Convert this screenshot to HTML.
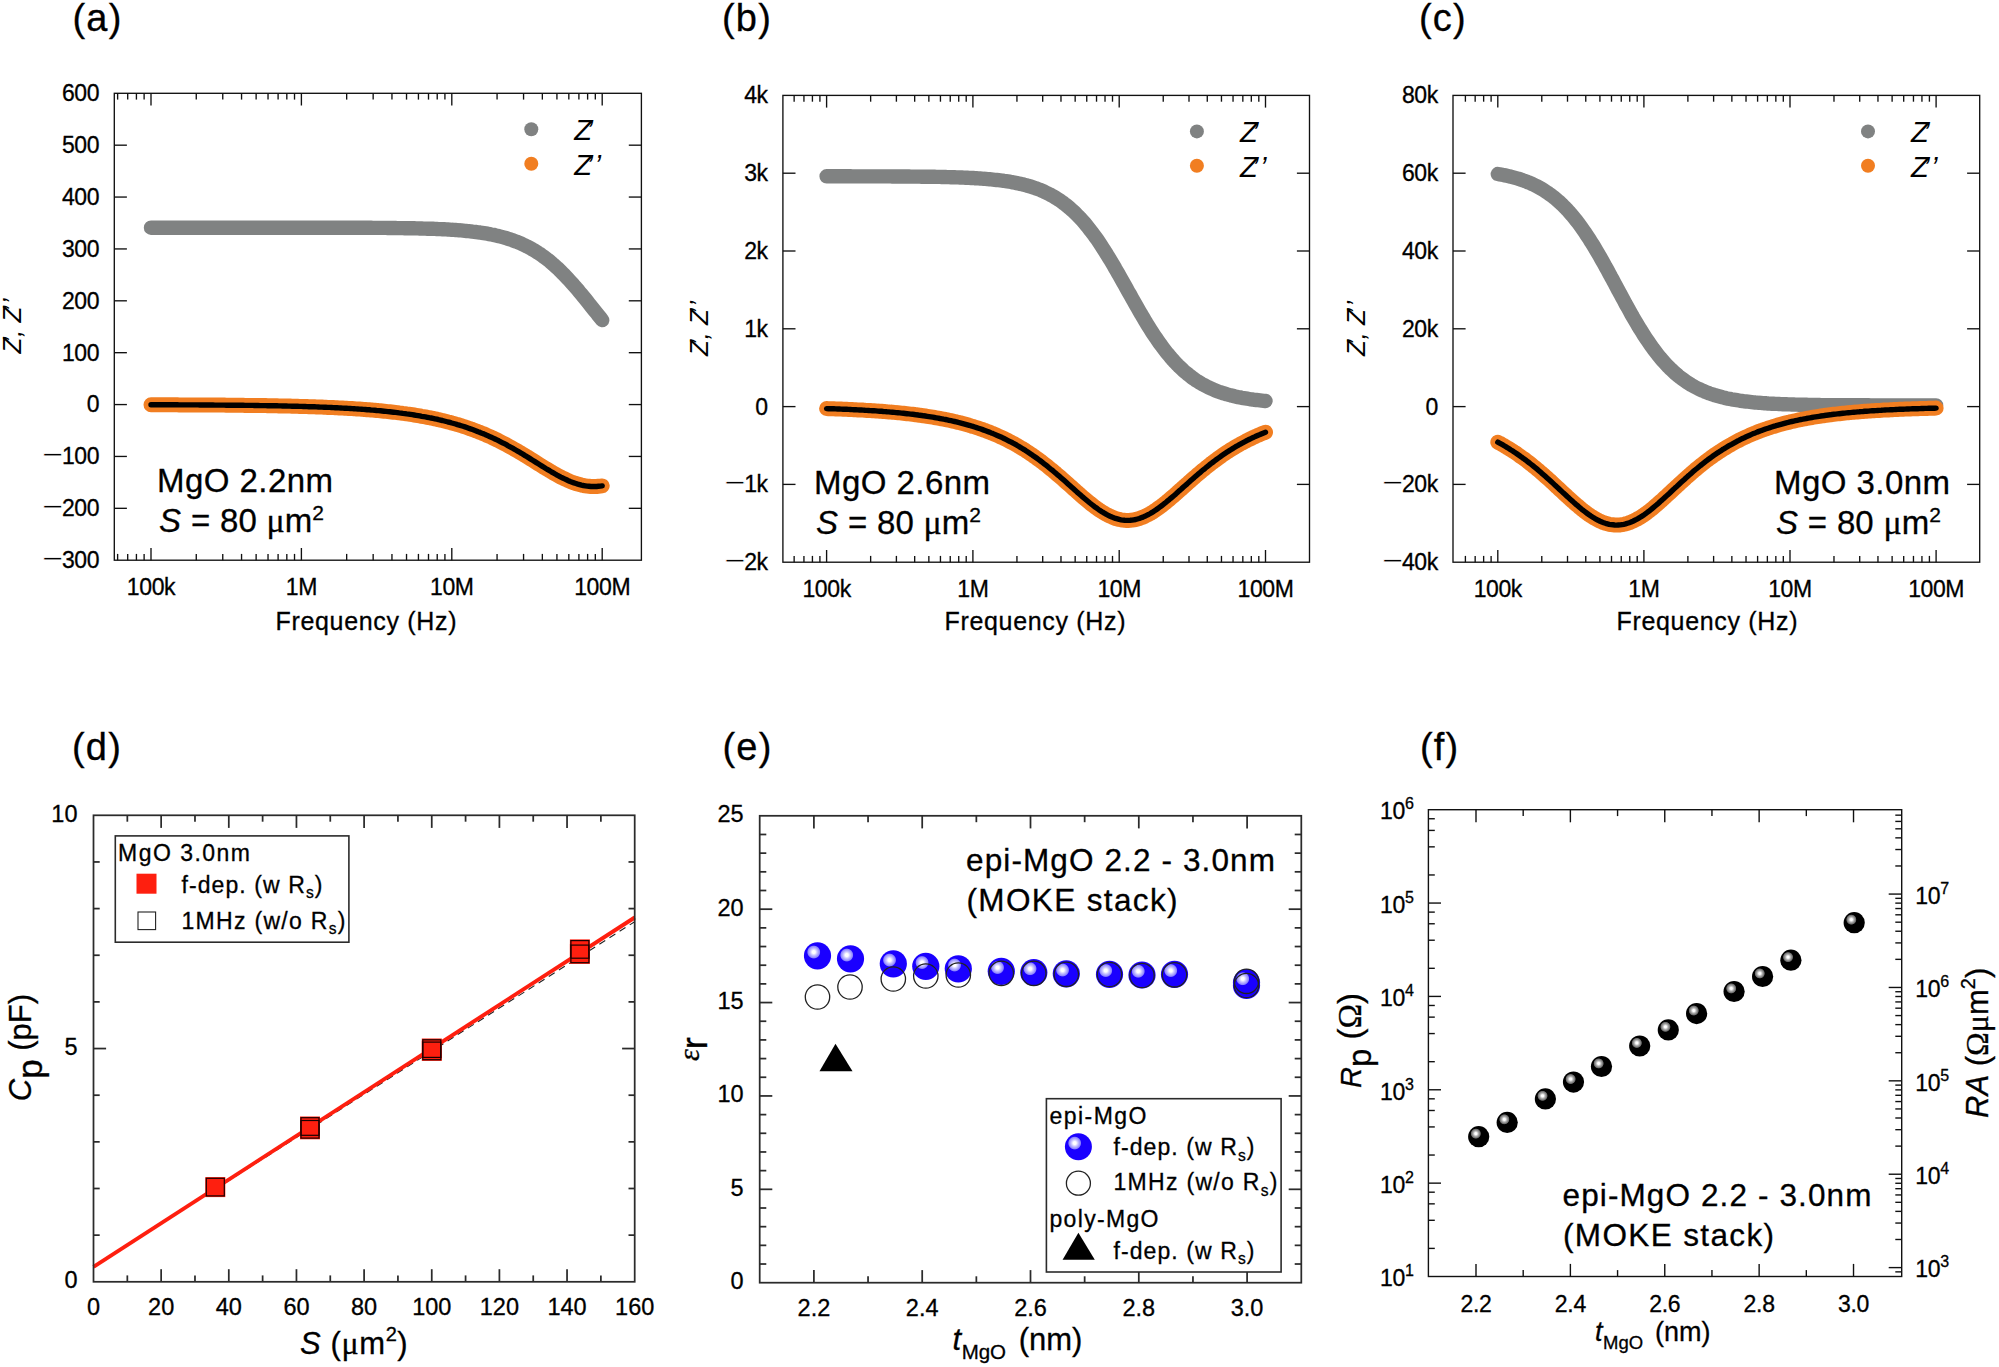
<!DOCTYPE html><html><head><meta charset="utf-8"><title>Figure</title><style>html,body{margin:0;padding:0;background:#fff}svg{display:block}text{fill:#000;stroke:#000;stroke-width:0.3px}</style></head><body>
<svg width="1999" height="1367" viewBox="0 0 1999 1367">
<rect width="1999" height="1367" fill="#fff"/>
<defs>
<radialGradient id="gb" cx="0.362" cy="0.362" r="0.25"><stop offset="0" stop-color="#ffffff"/><stop offset="0.22" stop-color="#ffffff"/><stop offset="0.5" stop-color="#c8c4ff"/><stop offset="0.86" stop-color="#8c84ff"/><stop offset="1" stop-color="#1a00ff"/></radialGradient>
<radialGradient id="gk" cx="0.365" cy="0.355" r="0.25"><stop offset="0" stop-color="#ffffff"/><stop offset="0.2" stop-color="#ffffff"/><stop offset="0.5" stop-color="#b0b0b0"/><stop offset="0.85" stop-color="#6a6a6a"/><stop offset="1" stop-color="#000"/></radialGradient>
</defs>
<polyline points="151.0,227.7 152.9,227.7 154.8,227.7 156.6,227.7 158.5,227.7 160.4,227.7 162.3,227.7 164.2,227.7 166.0,227.7 167.9,227.7 169.8,227.7 171.7,227.7 173.6,227.7 175.4,227.7 177.3,227.7 179.2,227.7 181.1,227.7 183.0,227.7 184.8,227.7 186.7,227.7 188.6,227.7 190.5,227.7 192.4,227.7 194.2,227.7 196.1,227.7 198.0,227.7 199.9,227.7 201.8,227.7 203.6,227.7 205.5,227.7 207.4,227.7 209.3,227.7 211.2,227.7 213.0,227.7 214.9,227.7 216.8,227.7 218.7,227.7 220.6,227.7 222.4,227.7 224.3,227.7 226.2,227.7 228.1,227.7 230.0,227.7 231.8,227.7 233.7,227.7 235.6,227.7 237.5,227.7 239.4,227.7 241.2,227.7 243.1,227.7 245.0,227.7 246.9,227.7 248.8,227.7 250.6,227.7 252.5,227.7 254.4,227.7 256.3,227.7 258.2,227.7 260.0,227.7 261.9,227.7 263.8,227.7 265.7,227.7 267.6,227.7 269.4,227.7 271.3,227.7 273.2,227.7 275.1,227.7 277.0,227.7 278.8,227.7 280.7,227.7 282.6,227.7 284.5,227.7 286.4,227.7 288.2,227.7 290.1,227.7 292.0,227.7 293.9,227.7 295.8,227.7 297.6,227.7 299.5,227.7 301.4,227.7 303.3,227.7 305.2,227.7 307.0,227.7 308.9,227.7 310.8,227.7 312.7,227.7 314.6,227.7 316.4,227.7 318.3,227.7 320.2,227.7 322.1,227.7 324.0,227.7 325.8,227.7 327.7,227.7 329.6,227.7 331.5,227.7 333.4,227.7 335.2,227.7 337.1,227.7 339.0,227.7 340.9,227.7 342.8,227.7 344.6,227.7 346.5,227.7 348.4,227.8 350.3,227.8 352.2,227.8 354.0,227.8 355.9,227.8 357.8,227.8 359.7,227.8 361.6,227.8 363.4,227.8 365.3,227.8 367.2,227.8 369.1,227.8 371.0,227.8 372.8,227.9 374.7,227.9 376.6,227.9 378.5,227.9 380.4,227.9 382.2,227.9 384.1,227.9 386.0,227.9 387.9,228.0 389.8,228.0 391.6,228.0 393.5,228.0 395.4,228.0 397.3,228.1 399.2,228.1 401.0,228.1 402.9,228.1 404.8,228.2 406.7,228.2 408.6,228.2 410.4,228.3 412.3,228.3 414.2,228.3 416.1,228.4 418.0,228.4 419.8,228.5 421.7,228.5 423.6,228.6 425.5,228.6 427.4,228.7 429.2,228.7 431.1,228.8 433.0,228.8 434.9,228.9 436.8,229.0 438.6,229.1 440.5,229.1 442.4,229.2 444.3,229.3 446.2,229.4 448.0,229.5 449.9,229.6 451.8,229.8 453.7,229.9 455.6,230.0 457.4,230.1 459.3,230.3 461.2,230.4 463.1,230.6 465.0,230.8 466.8,231.0 468.7,231.1 470.6,231.3 472.5,231.6 474.4,231.8 476.2,232.0 478.1,232.3 480.0,232.5 481.9,232.8 483.8,233.1 485.6,233.4 487.5,233.7 489.4,234.1 491.3,234.5 493.2,234.8 495.0,235.3 496.9,235.7 498.8,236.1 500.7,236.6 502.6,237.1 504.4,237.6 506.3,238.2 508.2,238.8 510.1,239.4 512.0,240.0 513.8,240.7 515.7,241.4 517.6,242.1 519.5,242.9 521.4,243.7 523.2,244.6 525.1,245.5 527.0,246.4 528.9,247.4 530.8,248.4 532.6,249.5 534.5,250.6 536.4,251.7 538.3,253.0 540.2,254.2 542.0,255.5 543.9,256.9 545.8,258.3 547.7,259.7 549.6,261.2 551.4,262.8 553.3,264.4 555.2,266.1 557.1,267.8 559.0,269.6 560.8,271.4 562.7,273.3 564.6,275.2 566.5,277.2 568.4,279.2 570.2,281.2 572.1,283.3 574.0,285.5 575.9,287.6 577.8,289.8 579.6,292.1 581.5,294.3 583.4,296.6 585.3,298.9 587.2,301.3 589.0,303.6 590.9,306.0 592.8,308.3 594.7,310.7 596.6,313.0 598.4,315.4 600.3,317.7 602.2,320.1" fill="none" stroke="#808282" stroke-width="14.4" stroke-linecap="round" stroke-linejoin="round"/>
<polyline points="151.0,404.8 152.9,404.8 154.8,404.8 156.6,404.8 158.5,404.8 160.4,404.8 162.3,404.8 164.2,404.8 166.0,404.8 167.9,404.8 169.8,404.8 171.7,404.8 173.6,404.8 175.4,404.8 177.3,404.8 179.2,404.9 181.1,404.9 183.0,404.9 184.8,404.9 186.7,404.9 188.6,404.9 190.5,404.9 192.4,404.9 194.2,404.9 196.1,404.9 198.0,404.9 199.9,405.0 201.8,405.0 203.6,405.0 205.5,405.0 207.4,405.0 209.3,405.0 211.2,405.0 213.0,405.0 214.9,405.1 216.8,405.1 218.7,405.1 220.6,405.1 222.4,405.1 224.3,405.1 226.2,405.2 228.1,405.2 230.0,405.2 231.8,405.2 233.7,405.2 235.6,405.2 237.5,405.3 239.4,405.3 241.2,405.3 243.1,405.3 245.0,405.4 246.9,405.4 248.8,405.4 250.6,405.4 252.5,405.4 254.4,405.5 256.3,405.5 258.2,405.5 260.0,405.6 261.9,405.6 263.8,405.6 265.7,405.6 267.6,405.7 269.4,405.7 271.3,405.7 273.2,405.8 275.1,405.8 277.0,405.8 278.8,405.9 280.7,405.9 282.6,406.0 284.5,406.0 286.4,406.0 288.2,406.1 290.1,406.1 292.0,406.2 293.9,406.2 295.8,406.3 297.6,406.3 299.5,406.4 301.4,406.4 303.3,406.5 305.2,406.5 307.0,406.6 308.9,406.7 310.8,406.7 312.7,406.8 314.6,406.8 316.4,406.9 318.3,407.0 320.2,407.1 322.1,407.1 324.0,407.2 325.8,407.3 327.7,407.4 329.6,407.4 331.5,407.5 333.4,407.6 335.2,407.7 337.1,407.8 339.0,407.9 340.9,408.0 342.8,408.1 344.6,408.2 346.5,408.3 348.4,408.4 350.3,408.5 352.2,408.6 354.0,408.7 355.9,408.9 357.8,409.0 359.7,409.1 361.6,409.2 363.4,409.4 365.3,409.5 367.2,409.7 369.1,409.8 371.0,410.0 372.8,410.1 374.7,410.3 376.6,410.5 378.5,410.6 380.4,410.8 382.2,411.0 384.1,411.2 386.0,411.4 387.9,411.6 389.8,411.8 391.6,412.0 393.5,412.2 395.4,412.4 397.3,412.6 399.2,412.9 401.0,413.1 402.9,413.4 404.8,413.6 406.7,413.9 408.6,414.1 410.4,414.4 412.3,414.7 414.2,415.0 416.1,415.3 418.0,415.6 419.8,415.9 421.7,416.3 423.6,416.6 425.5,416.9 427.4,417.3 429.2,417.7 431.1,418.0 433.0,418.4 434.9,418.8 436.8,419.2 438.6,419.7 440.5,420.1 442.4,420.5 444.3,421.0 446.2,421.5 448.0,422.0 449.9,422.4 451.8,423.0 453.7,423.5 455.6,424.0 457.4,424.6 459.3,425.1 461.2,425.7 463.1,426.3 465.0,426.9 466.8,427.5 468.7,428.2 470.6,428.9 472.5,429.5 474.4,430.2 476.2,430.9 478.1,431.7 480.0,432.4 481.9,433.2 483.8,433.9 485.6,434.7 487.5,435.6 489.4,436.4 491.3,437.2 493.2,438.1 495.0,439.0 496.9,439.9 498.8,440.8 500.7,441.8 502.6,442.8 504.4,443.7 506.3,444.7 508.2,445.8 510.1,446.8 512.0,447.8 513.8,448.9 515.7,450.0 517.6,451.1 519.5,452.2 521.4,453.3 523.2,454.4 525.1,455.6 527.0,456.7 528.9,457.9 530.8,459.1 532.6,460.2 534.5,461.4 536.4,462.6 538.3,463.8 540.2,465.0 542.0,466.1 543.9,467.3 545.8,468.5 547.7,469.6 549.6,470.7 551.4,471.8 553.3,472.9 555.2,474.0 557.1,475.1 559.0,476.1 560.8,477.1 562.7,478.0 564.6,478.9 566.5,479.8 568.4,480.7 570.2,481.5 572.1,482.2 574.0,482.9 575.9,483.5 577.8,484.1 579.6,484.6 581.5,485.1 583.4,485.5 585.3,485.8 587.2,486.1 589.0,486.3 590.9,486.5 592.8,486.5 594.7,486.5 596.6,486.5 598.4,486.3 600.3,486.1 602.2,485.9" fill="none" stroke="#f17e21" stroke-width="15" stroke-linecap="round" stroke-linejoin="round"/>
<polyline points="151.0,404.8 152.9,404.8 154.8,404.8 156.6,404.8 158.5,404.8 160.4,404.8 162.3,404.8 164.2,404.8 166.0,404.8 167.9,404.8 169.8,404.8 171.7,404.8 173.6,404.8 175.4,404.8 177.3,404.8 179.2,404.9 181.1,404.9 183.0,404.9 184.8,404.9 186.7,404.9 188.6,404.9 190.5,404.9 192.4,404.9 194.2,404.9 196.1,404.9 198.0,404.9 199.9,405.0 201.8,405.0 203.6,405.0 205.5,405.0 207.4,405.0 209.3,405.0 211.2,405.0 213.0,405.0 214.9,405.1 216.8,405.1 218.7,405.1 220.6,405.1 222.4,405.1 224.3,405.1 226.2,405.2 228.1,405.2 230.0,405.2 231.8,405.2 233.7,405.2 235.6,405.2 237.5,405.3 239.4,405.3 241.2,405.3 243.1,405.3 245.0,405.4 246.9,405.4 248.8,405.4 250.6,405.4 252.5,405.4 254.4,405.5 256.3,405.5 258.2,405.5 260.0,405.6 261.9,405.6 263.8,405.6 265.7,405.6 267.6,405.7 269.4,405.7 271.3,405.7 273.2,405.8 275.1,405.8 277.0,405.8 278.8,405.9 280.7,405.9 282.6,406.0 284.5,406.0 286.4,406.0 288.2,406.1 290.1,406.1 292.0,406.2 293.9,406.2 295.8,406.3 297.6,406.3 299.5,406.4 301.4,406.4 303.3,406.5 305.2,406.5 307.0,406.6 308.9,406.7 310.8,406.7 312.7,406.8 314.6,406.8 316.4,406.9 318.3,407.0 320.2,407.1 322.1,407.1 324.0,407.2 325.8,407.3 327.7,407.4 329.6,407.4 331.5,407.5 333.4,407.6 335.2,407.7 337.1,407.8 339.0,407.9 340.9,408.0 342.8,408.1 344.6,408.2 346.5,408.3 348.4,408.4 350.3,408.5 352.2,408.6 354.0,408.7 355.9,408.9 357.8,409.0 359.7,409.1 361.6,409.2 363.4,409.4 365.3,409.5 367.2,409.7 369.1,409.8 371.0,410.0 372.8,410.1 374.7,410.3 376.6,410.5 378.5,410.6 380.4,410.8 382.2,411.0 384.1,411.2 386.0,411.4 387.9,411.6 389.8,411.8 391.6,412.0 393.5,412.2 395.4,412.4 397.3,412.6 399.2,412.9 401.0,413.1 402.9,413.4 404.8,413.6 406.7,413.9 408.6,414.1 410.4,414.4 412.3,414.7 414.2,415.0 416.1,415.3 418.0,415.6 419.8,415.9 421.7,416.3 423.6,416.6 425.5,416.9 427.4,417.3 429.2,417.7 431.1,418.0 433.0,418.4 434.9,418.8 436.8,419.2 438.6,419.7 440.5,420.1 442.4,420.5 444.3,421.0 446.2,421.5 448.0,422.0 449.9,422.4 451.8,423.0 453.7,423.5 455.6,424.0 457.4,424.6 459.3,425.1 461.2,425.7 463.1,426.3 465.0,426.9 466.8,427.5 468.7,428.2 470.6,428.9 472.5,429.5 474.4,430.2 476.2,430.9 478.1,431.7 480.0,432.4 481.9,433.2 483.8,433.9 485.6,434.7 487.5,435.6 489.4,436.4 491.3,437.2 493.2,438.1 495.0,439.0 496.9,439.9 498.8,440.8 500.7,441.8 502.6,442.8 504.4,443.7 506.3,444.7 508.2,445.8 510.1,446.8 512.0,447.8 513.8,448.9 515.7,450.0 517.6,451.1 519.5,452.2 521.4,453.3 523.2,454.4 525.1,455.6 527.0,456.7 528.9,457.9 530.8,459.1 532.6,460.2 534.5,461.4 536.4,462.6 538.3,463.8 540.2,465.0 542.0,466.1 543.9,467.3 545.8,468.5 547.7,469.6 549.6,470.7 551.4,471.8 553.3,472.9 555.2,474.0 557.1,475.1 559.0,476.1 560.8,477.1 562.7,478.0 564.6,478.9 566.5,479.8 568.4,480.7 570.2,481.5 572.1,482.2 574.0,482.9 575.9,483.5 577.8,484.1 579.6,484.6 581.5,485.1 583.4,485.5 585.3,485.8 587.2,486.1 589.0,486.3 590.9,486.5 592.8,486.5 594.7,486.5 596.6,486.5 598.4,486.3 600.3,486.1 602.2,485.9" fill="none" stroke="#000" stroke-width="5.4" stroke-linecap="round" stroke-linejoin="round"/>
<rect x="114.30" y="93.30" width="527.10" height="466.90" fill="none" stroke="#111" stroke-width="1.35"/>
<line x1="151.00" y1="560.20" x2="151.00" y2="548.00" stroke="#111" stroke-width="1.35"/>
<line x1="151.00" y1="93.30" x2="151.00" y2="105.50" stroke="#111" stroke-width="1.35"/>
<line x1="301.40" y1="560.20" x2="301.40" y2="548.00" stroke="#111" stroke-width="1.35"/>
<line x1="301.40" y1="93.30" x2="301.40" y2="105.50" stroke="#111" stroke-width="1.35"/>
<line x1="451.80" y1="560.20" x2="451.80" y2="548.00" stroke="#111" stroke-width="1.35"/>
<line x1="451.80" y1="93.30" x2="451.80" y2="105.50" stroke="#111" stroke-width="1.35"/>
<line x1="602.20" y1="560.20" x2="602.20" y2="548.00" stroke="#111" stroke-width="1.35"/>
<line x1="602.20" y1="93.30" x2="602.20" y2="105.50" stroke="#111" stroke-width="1.35"/>
<line x1="117.63" y1="560.20" x2="117.63" y2="553.90" stroke="#111" stroke-width="1.35"/>
<line x1="117.63" y1="93.30" x2="117.63" y2="99.60" stroke="#111" stroke-width="1.35"/>
<line x1="127.70" y1="560.20" x2="127.70" y2="553.90" stroke="#111" stroke-width="1.35"/>
<line x1="127.70" y1="93.30" x2="127.70" y2="99.60" stroke="#111" stroke-width="1.35"/>
<line x1="136.42" y1="560.20" x2="136.42" y2="553.90" stroke="#111" stroke-width="1.35"/>
<line x1="136.42" y1="93.30" x2="136.42" y2="99.60" stroke="#111" stroke-width="1.35"/>
<line x1="144.12" y1="560.20" x2="144.12" y2="553.90" stroke="#111" stroke-width="1.35"/>
<line x1="144.12" y1="93.30" x2="144.12" y2="99.60" stroke="#111" stroke-width="1.35"/>
<line x1="196.27" y1="560.20" x2="196.27" y2="553.90" stroke="#111" stroke-width="1.35"/>
<line x1="196.27" y1="93.30" x2="196.27" y2="99.60" stroke="#111" stroke-width="1.35"/>
<line x1="222.76" y1="560.20" x2="222.76" y2="553.90" stroke="#111" stroke-width="1.35"/>
<line x1="222.76" y1="93.30" x2="222.76" y2="99.60" stroke="#111" stroke-width="1.35"/>
<line x1="241.55" y1="560.20" x2="241.55" y2="553.90" stroke="#111" stroke-width="1.35"/>
<line x1="241.55" y1="93.30" x2="241.55" y2="99.60" stroke="#111" stroke-width="1.35"/>
<line x1="256.13" y1="560.20" x2="256.13" y2="553.90" stroke="#111" stroke-width="1.35"/>
<line x1="256.13" y1="93.30" x2="256.13" y2="99.60" stroke="#111" stroke-width="1.35"/>
<line x1="268.03" y1="560.20" x2="268.03" y2="553.90" stroke="#111" stroke-width="1.35"/>
<line x1="268.03" y1="93.30" x2="268.03" y2="99.60" stroke="#111" stroke-width="1.35"/>
<line x1="278.10" y1="560.20" x2="278.10" y2="553.90" stroke="#111" stroke-width="1.35"/>
<line x1="278.10" y1="93.30" x2="278.10" y2="99.60" stroke="#111" stroke-width="1.35"/>
<line x1="286.82" y1="560.20" x2="286.82" y2="553.90" stroke="#111" stroke-width="1.35"/>
<line x1="286.82" y1="93.30" x2="286.82" y2="99.60" stroke="#111" stroke-width="1.35"/>
<line x1="294.52" y1="560.20" x2="294.52" y2="553.90" stroke="#111" stroke-width="1.35"/>
<line x1="294.52" y1="93.30" x2="294.52" y2="99.60" stroke="#111" stroke-width="1.35"/>
<line x1="346.67" y1="560.20" x2="346.67" y2="553.90" stroke="#111" stroke-width="1.35"/>
<line x1="346.67" y1="93.30" x2="346.67" y2="99.60" stroke="#111" stroke-width="1.35"/>
<line x1="373.16" y1="560.20" x2="373.16" y2="553.90" stroke="#111" stroke-width="1.35"/>
<line x1="373.16" y1="93.30" x2="373.16" y2="99.60" stroke="#111" stroke-width="1.35"/>
<line x1="391.95" y1="560.20" x2="391.95" y2="553.90" stroke="#111" stroke-width="1.35"/>
<line x1="391.95" y1="93.30" x2="391.95" y2="99.60" stroke="#111" stroke-width="1.35"/>
<line x1="406.53" y1="560.20" x2="406.53" y2="553.90" stroke="#111" stroke-width="1.35"/>
<line x1="406.53" y1="93.30" x2="406.53" y2="99.60" stroke="#111" stroke-width="1.35"/>
<line x1="418.43" y1="560.20" x2="418.43" y2="553.90" stroke="#111" stroke-width="1.35"/>
<line x1="418.43" y1="93.30" x2="418.43" y2="99.60" stroke="#111" stroke-width="1.35"/>
<line x1="428.50" y1="560.20" x2="428.50" y2="553.90" stroke="#111" stroke-width="1.35"/>
<line x1="428.50" y1="93.30" x2="428.50" y2="99.60" stroke="#111" stroke-width="1.35"/>
<line x1="437.22" y1="560.20" x2="437.22" y2="553.90" stroke="#111" stroke-width="1.35"/>
<line x1="437.22" y1="93.30" x2="437.22" y2="99.60" stroke="#111" stroke-width="1.35"/>
<line x1="444.92" y1="560.20" x2="444.92" y2="553.90" stroke="#111" stroke-width="1.35"/>
<line x1="444.92" y1="93.30" x2="444.92" y2="99.60" stroke="#111" stroke-width="1.35"/>
<line x1="497.07" y1="560.20" x2="497.07" y2="553.90" stroke="#111" stroke-width="1.35"/>
<line x1="497.07" y1="93.30" x2="497.07" y2="99.60" stroke="#111" stroke-width="1.35"/>
<line x1="523.56" y1="560.20" x2="523.56" y2="553.90" stroke="#111" stroke-width="1.35"/>
<line x1="523.56" y1="93.30" x2="523.56" y2="99.60" stroke="#111" stroke-width="1.35"/>
<line x1="542.35" y1="560.20" x2="542.35" y2="553.90" stroke="#111" stroke-width="1.35"/>
<line x1="542.35" y1="93.30" x2="542.35" y2="99.60" stroke="#111" stroke-width="1.35"/>
<line x1="556.93" y1="560.20" x2="556.93" y2="553.90" stroke="#111" stroke-width="1.35"/>
<line x1="556.93" y1="93.30" x2="556.93" y2="99.60" stroke="#111" stroke-width="1.35"/>
<line x1="568.83" y1="560.20" x2="568.83" y2="553.90" stroke="#111" stroke-width="1.35"/>
<line x1="568.83" y1="93.30" x2="568.83" y2="99.60" stroke="#111" stroke-width="1.35"/>
<line x1="578.90" y1="560.20" x2="578.90" y2="553.90" stroke="#111" stroke-width="1.35"/>
<line x1="578.90" y1="93.30" x2="578.90" y2="99.60" stroke="#111" stroke-width="1.35"/>
<line x1="587.62" y1="560.20" x2="587.62" y2="553.90" stroke="#111" stroke-width="1.35"/>
<line x1="587.62" y1="93.30" x2="587.62" y2="99.60" stroke="#111" stroke-width="1.35"/>
<line x1="595.32" y1="560.20" x2="595.32" y2="553.90" stroke="#111" stroke-width="1.35"/>
<line x1="595.32" y1="93.30" x2="595.32" y2="99.60" stroke="#111" stroke-width="1.35"/>
<text x="99.10" y="101.20" font-size="23" text-anchor="end" font-family="Liberation Sans, Arial, sans-serif" letter-spacing="-0.4">600</text>
<line x1="114.30" y1="145.18" x2="126.90" y2="145.18" stroke="#111" stroke-width="1.35"/>
<line x1="641.40" y1="145.18" x2="628.80" y2="145.18" stroke="#111" stroke-width="1.35"/>
<text x="99.10" y="153.08" font-size="23" text-anchor="end" font-family="Liberation Sans, Arial, sans-serif" letter-spacing="-0.4">500</text>
<line x1="114.30" y1="197.06" x2="126.90" y2="197.06" stroke="#111" stroke-width="1.35"/>
<line x1="641.40" y1="197.06" x2="628.80" y2="197.06" stroke="#111" stroke-width="1.35"/>
<text x="99.10" y="204.96" font-size="23" text-anchor="end" font-family="Liberation Sans, Arial, sans-serif" letter-spacing="-0.4">400</text>
<line x1="114.30" y1="248.93" x2="126.90" y2="248.93" stroke="#111" stroke-width="1.35"/>
<line x1="641.40" y1="248.93" x2="628.80" y2="248.93" stroke="#111" stroke-width="1.35"/>
<text x="99.10" y="256.83" font-size="23" text-anchor="end" font-family="Liberation Sans, Arial, sans-serif" letter-spacing="-0.4">300</text>
<line x1="114.30" y1="300.81" x2="126.90" y2="300.81" stroke="#111" stroke-width="1.35"/>
<line x1="641.40" y1="300.81" x2="628.80" y2="300.81" stroke="#111" stroke-width="1.35"/>
<text x="99.10" y="308.71" font-size="23" text-anchor="end" font-family="Liberation Sans, Arial, sans-serif" letter-spacing="-0.4">200</text>
<line x1="114.30" y1="352.69" x2="126.90" y2="352.69" stroke="#111" stroke-width="1.35"/>
<line x1="641.40" y1="352.69" x2="628.80" y2="352.69" stroke="#111" stroke-width="1.35"/>
<text x="99.10" y="360.59" font-size="23" text-anchor="end" font-family="Liberation Sans, Arial, sans-serif" letter-spacing="-0.4">100</text>
<line x1="114.30" y1="404.57" x2="126.90" y2="404.57" stroke="#111" stroke-width="1.35"/>
<line x1="641.40" y1="404.57" x2="628.80" y2="404.57" stroke="#111" stroke-width="1.35"/>
<text x="99.10" y="412.47" font-size="23" text-anchor="end" font-family="Liberation Sans, Arial, sans-serif" letter-spacing="-0.4">0</text>
<line x1="114.30" y1="456.44" x2="126.90" y2="456.44" stroke="#111" stroke-width="1.35"/>
<line x1="641.40" y1="456.44" x2="628.80" y2="456.44" stroke="#111" stroke-width="1.35"/>
<text x="99.10" y="464.34" font-size="23" text-anchor="end" font-family="Liberation Sans, Arial, sans-serif" letter-spacing="-0.4"><tspan font-size="37" dy="2.6" stroke="#fff" stroke-width="0.9">−</tspan><tspan dy="-2.6" dx="-1">100</tspan></text>
<line x1="114.30" y1="508.32" x2="126.90" y2="508.32" stroke="#111" stroke-width="1.35"/>
<line x1="641.40" y1="508.32" x2="628.80" y2="508.32" stroke="#111" stroke-width="1.35"/>
<text x="99.10" y="516.22" font-size="23" text-anchor="end" font-family="Liberation Sans, Arial, sans-serif" letter-spacing="-0.4"><tspan font-size="37" dy="2.6" stroke="#fff" stroke-width="0.9">−</tspan><tspan dy="-2.6" dx="-1">200</tspan></text>
<text x="99.10" y="568.10" font-size="23" text-anchor="end" font-family="Liberation Sans, Arial, sans-serif" letter-spacing="-0.4"><tspan font-size="37" dy="2.6" stroke="#fff" stroke-width="0.9">−</tspan><tspan dy="-2.6" dx="-1">300</tspan></text>
<text x="151.00" y="594.80" font-size="23" text-anchor="middle" font-family="Liberation Sans, Arial, sans-serif" letter-spacing="-0.4">100k</text>
<text x="301.40" y="594.80" font-size="23" text-anchor="middle" font-family="Liberation Sans, Arial, sans-serif" letter-spacing="-0.4">1M</text>
<text x="451.80" y="594.80" font-size="23" text-anchor="middle" font-family="Liberation Sans, Arial, sans-serif" letter-spacing="-0.4">10M</text>
<text x="602.20" y="594.80" font-size="23" text-anchor="middle" font-family="Liberation Sans, Arial, sans-serif" letter-spacing="-0.4">100M</text>
<text x="366.00" y="629.50" font-size="25" text-anchor="middle" font-family="Liberation Sans, Arial, sans-serif" textLength="181" lengthAdjust="spacing">Frequency (Hz)</text>
<text transform="translate(20.5,326) rotate(-90)" font-size="26" text-anchor="middle" font-style="italic" style="stroke:none" font-family="Liberation Sans, Arial, sans-serif">Z<tspan dx="-5">’</tspan>, Z<tspan dx="-5">’</tspan><tspan dx="2.5">’</tspan></text>
<circle cx="531.3" cy="129.3" r="7" fill="#808282"/>
<circle cx="531.3" cy="163.7" r="7" fill="#f17e21"/>
<text x="574.30" y="140.30" font-size="29" text-anchor="start" font-family="Liberation Sans, Arial, sans-serif" font-style="italic" style="stroke:none">Z<tspan dx="-5.5">’</tspan></text>
<text x="574.30" y="174.90" font-size="29" text-anchor="start" font-family="Liberation Sans, Arial, sans-serif" font-style="italic" style="stroke:none">Z<tspan dx="-5.5">’</tspan><tspan dx="2.5">’</tspan></text>
<text x="157.00" y="491.70" font-size="33" text-anchor="start" font-family="Liberation Sans, Arial, sans-serif" textLength="176" lengthAdjust="spacing">MgO 2.2nm</text>
<text x="159.0" y="532.2" font-size="33" word-spacing="0.7" text-anchor="start" font-family="Liberation Sans, Arial, sans-serif"><tspan font-style="italic">S</tspan> = 80 <tspan font-family="Liberation Serif, Times New Roman, serif" font-size="34">μ</tspan>m<tspan font-size="21" dy="-12">2</tspan></text>
<text x="72.50" y="30.80" font-size="38" text-anchor="start" font-family="Liberation Sans, Arial, sans-serif" ></text>
<polyline points="826.6,176.3 828.4,176.3 830.3,176.3 832.1,176.3 833.9,176.3 835.7,176.3 837.6,176.3 839.4,176.3 841.2,176.3 843.1,176.3 844.9,176.3 846.7,176.3 848.5,176.3 850.4,176.3 852.2,176.4 854.0,176.4 855.9,176.4 857.7,176.4 859.5,176.4 861.3,176.4 863.2,176.4 865.0,176.4 866.8,176.4 868.7,176.4 870.5,176.4 872.3,176.4 874.1,176.4 876.0,176.4 877.8,176.4 879.6,176.4 881.5,176.4 883.3,176.4 885.1,176.4 886.9,176.4 888.8,176.4 890.6,176.4 892.4,176.5 894.3,176.5 896.1,176.5 897.9,176.5 899.8,176.5 901.6,176.5 903.4,176.5 905.2,176.5 907.1,176.5 908.9,176.5 910.7,176.6 912.6,176.6 914.4,176.6 916.2,176.6 918.0,176.6 919.9,176.6 921.7,176.7 923.5,176.7 925.4,176.7 927.2,176.7 929.0,176.8 930.8,176.8 932.7,176.8 934.5,176.8 936.3,176.9 938.2,176.9 940.0,176.9 941.8,177.0 943.6,177.0 945.5,177.0 947.3,177.1 949.1,177.1 951.0,177.2 952.8,177.2 954.6,177.3 956.4,177.4 958.3,177.4 960.1,177.5 961.9,177.5 963.8,177.6 965.6,177.7 967.4,177.8 969.2,177.9 971.1,178.0 972.9,178.0 974.7,178.2 976.6,178.3 978.4,178.4 980.2,178.5 982.0,178.6 983.9,178.8 985.7,178.9 987.5,179.1 989.4,179.2 991.2,179.4 993.0,179.6 994.8,179.8 996.7,180.0 998.5,180.2 1000.3,180.4 1002.2,180.6 1004.0,180.9 1005.8,181.1 1007.6,181.4 1009.5,181.7 1011.3,182.0 1013.1,182.4 1015.0,182.7 1016.8,183.1 1018.6,183.5 1020.4,183.9 1022.3,184.3 1024.1,184.8 1025.9,185.2 1027.8,185.8 1029.6,186.3 1031.4,186.8 1033.2,187.4 1035.1,188.1 1036.9,188.7 1038.7,189.4 1040.6,190.1 1042.4,190.9 1044.2,191.7 1046.0,192.6 1047.9,193.5 1049.7,194.4 1051.5,195.4 1053.4,196.4 1055.2,197.5 1057.0,198.6 1058.9,199.8 1060.7,201.0 1062.5,202.3 1064.3,203.7 1066.2,205.1 1068.0,206.6 1069.8,208.1 1071.7,209.8 1073.5,211.4 1075.3,213.2 1077.1,215.0 1079.0,216.9 1080.8,218.8 1082.6,220.8 1084.5,222.9 1086.3,225.1 1088.1,227.4 1089.9,229.7 1091.8,232.1 1093.6,234.5 1095.4,237.0 1097.3,239.6 1099.1,242.3 1100.9,245.0 1102.7,247.8 1104.6,250.7 1106.4,253.6 1108.2,256.6 1110.1,259.6 1111.9,262.6 1113.7,265.7 1115.5,268.9 1117.4,272.1 1119.2,275.3 1121.0,278.5 1122.9,281.8 1124.7,285.0 1126.5,288.3 1128.3,291.6 1130.2,294.8 1132.0,298.1 1133.8,301.3 1135.7,304.6 1137.5,307.8 1139.3,311.0 1141.1,314.1 1143.0,317.2 1144.8,320.3 1146.6,323.3 1148.5,326.3 1150.3,329.2 1152.1,332.1 1153.9,334.9 1155.8,337.6 1157.6,340.3 1159.4,342.9 1161.3,345.4 1163.1,347.9 1164.9,350.3 1166.7,352.6 1168.6,354.8 1170.4,357.0 1172.2,359.1 1174.1,361.2 1175.9,363.1 1177.7,365.0 1179.5,366.8 1181.4,368.6 1183.2,370.3 1185.0,371.9 1186.9,373.4 1188.7,374.9 1190.5,376.3 1192.3,377.7 1194.2,379.0 1196.0,380.3 1197.8,381.4 1199.7,382.6 1201.5,383.7 1203.3,384.7 1205.2,385.7 1207.0,386.6 1208.8,387.5 1210.6,388.4 1212.5,389.2 1214.3,390.0 1216.1,390.7 1218.0,391.4 1219.8,392.1 1221.6,392.7 1223.4,393.3 1225.3,393.8 1227.1,394.4 1228.9,394.9 1230.8,395.4 1232.6,395.8 1234.4,396.3 1236.2,396.7 1238.1,397.1 1239.9,397.4 1241.7,397.8 1243.6,398.1 1245.4,398.4 1247.2,398.7 1249.0,399.0 1250.9,399.3 1252.7,399.5 1254.5,399.8 1256.4,400.0 1258.2,400.2 1260.0,400.4 1261.8,400.6 1263.7,400.8 1265.5,401.0" fill="none" stroke="#808282" stroke-width="14.4" stroke-linecap="round" stroke-linejoin="round"/>
<polyline points="826.6,408.6 828.4,408.7 830.3,408.7 832.1,408.8 833.9,408.8 835.7,408.9 837.6,409.0 839.4,409.0 841.2,409.1 843.1,409.2 844.9,409.3 846.7,409.3 848.5,409.4 850.4,409.5 852.2,409.6 854.0,409.7 855.9,409.8 857.7,409.9 859.5,410.0 861.3,410.0 863.2,410.1 865.0,410.3 866.8,410.4 868.7,410.5 870.5,410.6 872.3,410.7 874.1,410.8 876.0,410.9 877.8,411.1 879.6,411.2 881.5,411.3 883.3,411.5 885.1,411.6 886.9,411.8 888.8,411.9 890.6,412.1 892.4,412.2 894.3,412.4 896.1,412.6 897.9,412.7 899.8,412.9 901.6,413.1 903.4,413.3 905.2,413.5 907.1,413.7 908.9,413.9 910.7,414.1 912.6,414.3 914.4,414.5 916.2,414.8 918.0,415.0 919.9,415.3 921.7,415.5 923.5,415.8 925.4,416.0 927.2,416.3 929.0,416.6 930.8,416.9 932.7,417.2 934.5,417.5 936.3,417.8 938.2,418.1 940.0,418.5 941.8,418.8 943.6,419.2 945.5,419.5 947.3,419.9 949.1,420.3 951.0,420.7 952.8,421.1 954.6,421.5 956.4,421.9 958.3,422.4 960.1,422.8 961.9,423.3 963.8,423.8 965.6,424.3 967.4,424.8 969.2,425.3 971.1,425.9 972.9,426.4 974.7,427.0 976.6,427.6 978.4,428.2 980.2,428.8 982.0,429.4 983.9,430.1 985.7,430.7 987.5,431.4 989.4,432.1 991.2,432.9 993.0,433.6 994.8,434.4 996.7,435.2 998.5,436.0 1000.3,436.8 1002.2,437.6 1004.0,438.5 1005.8,439.4 1007.6,440.3 1009.5,441.3 1011.3,442.2 1013.1,443.2 1015.0,444.2 1016.8,445.2 1018.6,446.3 1020.4,447.4 1022.3,448.5 1024.1,449.6 1025.9,450.8 1027.8,452.0 1029.6,453.2 1031.4,454.4 1033.2,455.7 1035.1,457.0 1036.9,458.3 1038.7,459.6 1040.6,461.0 1042.4,462.4 1044.2,463.8 1046.0,465.2 1047.9,466.7 1049.7,468.2 1051.5,469.7 1053.4,471.2 1055.2,472.7 1057.0,474.3 1058.9,475.8 1060.7,477.4 1062.5,479.0 1064.3,480.6 1066.2,482.3 1068.0,483.9 1069.8,485.5 1071.7,487.2 1073.5,488.8 1075.3,490.4 1077.1,492.1 1079.0,493.7 1080.8,495.3 1082.6,496.9 1084.5,498.5 1086.3,500.0 1088.1,501.5 1089.9,503.0 1091.8,504.5 1093.6,505.9 1095.4,507.3 1097.3,508.6 1099.1,509.9 1100.9,511.1 1102.7,512.2 1104.6,513.3 1106.4,514.4 1108.2,515.3 1110.1,516.2 1111.9,517.0 1113.7,517.7 1115.5,518.4 1117.4,518.9 1119.2,519.4 1121.0,519.8 1122.9,520.1 1124.7,520.3 1126.5,520.4 1128.3,520.4 1130.2,520.3 1132.0,520.1 1133.8,519.8 1135.7,519.5 1137.5,519.0 1139.3,518.5 1141.1,517.8 1143.0,517.1 1144.8,516.3 1146.6,515.4 1148.5,514.5 1150.3,513.5 1152.1,512.4 1153.9,511.2 1155.8,510.0 1157.6,508.7 1159.4,507.4 1161.3,506.0 1163.1,504.6 1164.9,503.2 1166.7,501.7 1168.6,500.2 1170.4,498.6 1172.2,497.1 1174.1,495.5 1175.9,493.9 1177.7,492.2 1179.5,490.6 1181.4,489.0 1183.2,487.3 1185.0,485.7 1186.9,484.1 1188.7,482.4 1190.5,480.8 1192.3,479.2 1194.2,477.6 1196.0,476.0 1197.8,474.4 1199.7,472.9 1201.5,471.3 1203.3,469.8 1205.2,468.3 1207.0,466.8 1208.8,465.4 1210.6,463.9 1212.5,462.5 1214.3,461.1 1216.1,459.8 1218.0,458.4 1219.8,457.1 1221.6,455.8 1223.4,454.6 1225.3,453.3 1227.1,452.1 1228.9,450.9 1230.8,449.7 1232.6,448.6 1234.4,447.5 1236.2,446.4 1238.1,445.4 1239.9,444.3 1241.7,443.3 1243.6,442.3 1245.4,441.4 1247.2,440.4 1249.0,439.5 1250.9,438.6 1252.7,437.7 1254.5,436.9 1256.4,436.0 1258.2,435.2 1260.0,434.5 1261.8,433.7 1263.7,432.9 1265.5,432.2" fill="none" stroke="#f17e21" stroke-width="15" stroke-linecap="round" stroke-linejoin="round"/>
<polyline points="826.6,408.6 828.4,408.7 830.3,408.7 832.1,408.8 833.9,408.8 835.7,408.9 837.6,409.0 839.4,409.0 841.2,409.1 843.1,409.2 844.9,409.3 846.7,409.3 848.5,409.4 850.4,409.5 852.2,409.6 854.0,409.7 855.9,409.8 857.7,409.9 859.5,410.0 861.3,410.0 863.2,410.1 865.0,410.3 866.8,410.4 868.7,410.5 870.5,410.6 872.3,410.7 874.1,410.8 876.0,410.9 877.8,411.1 879.6,411.2 881.5,411.3 883.3,411.5 885.1,411.6 886.9,411.8 888.8,411.9 890.6,412.1 892.4,412.2 894.3,412.4 896.1,412.6 897.9,412.7 899.8,412.9 901.6,413.1 903.4,413.3 905.2,413.5 907.1,413.7 908.9,413.9 910.7,414.1 912.6,414.3 914.4,414.5 916.2,414.8 918.0,415.0 919.9,415.3 921.7,415.5 923.5,415.8 925.4,416.0 927.2,416.3 929.0,416.6 930.8,416.9 932.7,417.2 934.5,417.5 936.3,417.8 938.2,418.1 940.0,418.5 941.8,418.8 943.6,419.2 945.5,419.5 947.3,419.9 949.1,420.3 951.0,420.7 952.8,421.1 954.6,421.5 956.4,421.9 958.3,422.4 960.1,422.8 961.9,423.3 963.8,423.8 965.6,424.3 967.4,424.8 969.2,425.3 971.1,425.9 972.9,426.4 974.7,427.0 976.6,427.6 978.4,428.2 980.2,428.8 982.0,429.4 983.9,430.1 985.7,430.7 987.5,431.4 989.4,432.1 991.2,432.9 993.0,433.6 994.8,434.4 996.7,435.2 998.5,436.0 1000.3,436.8 1002.2,437.6 1004.0,438.5 1005.8,439.4 1007.6,440.3 1009.5,441.3 1011.3,442.2 1013.1,443.2 1015.0,444.2 1016.8,445.2 1018.6,446.3 1020.4,447.4 1022.3,448.5 1024.1,449.6 1025.9,450.8 1027.8,452.0 1029.6,453.2 1031.4,454.4 1033.2,455.7 1035.1,457.0 1036.9,458.3 1038.7,459.6 1040.6,461.0 1042.4,462.4 1044.2,463.8 1046.0,465.2 1047.9,466.7 1049.7,468.2 1051.5,469.7 1053.4,471.2 1055.2,472.7 1057.0,474.3 1058.9,475.8 1060.7,477.4 1062.5,479.0 1064.3,480.6 1066.2,482.3 1068.0,483.9 1069.8,485.5 1071.7,487.2 1073.5,488.8 1075.3,490.4 1077.1,492.1 1079.0,493.7 1080.8,495.3 1082.6,496.9 1084.5,498.5 1086.3,500.0 1088.1,501.5 1089.9,503.0 1091.8,504.5 1093.6,505.9 1095.4,507.3 1097.3,508.6 1099.1,509.9 1100.9,511.1 1102.7,512.2 1104.6,513.3 1106.4,514.4 1108.2,515.3 1110.1,516.2 1111.9,517.0 1113.7,517.7 1115.5,518.4 1117.4,518.9 1119.2,519.4 1121.0,519.8 1122.9,520.1 1124.7,520.3 1126.5,520.4 1128.3,520.4 1130.2,520.3 1132.0,520.1 1133.8,519.8 1135.7,519.5 1137.5,519.0 1139.3,518.5 1141.1,517.8 1143.0,517.1 1144.8,516.3 1146.6,515.4 1148.5,514.5 1150.3,513.5 1152.1,512.4 1153.9,511.2 1155.8,510.0 1157.6,508.7 1159.4,507.4 1161.3,506.0 1163.1,504.6 1164.9,503.2 1166.7,501.7 1168.6,500.2 1170.4,498.6 1172.2,497.1 1174.1,495.5 1175.9,493.9 1177.7,492.2 1179.5,490.6 1181.4,489.0 1183.2,487.3 1185.0,485.7 1186.9,484.1 1188.7,482.4 1190.5,480.8 1192.3,479.2 1194.2,477.6 1196.0,476.0 1197.8,474.4 1199.7,472.9 1201.5,471.3 1203.3,469.8 1205.2,468.3 1207.0,466.8 1208.8,465.4 1210.6,463.9 1212.5,462.5 1214.3,461.1 1216.1,459.8 1218.0,458.4 1219.8,457.1 1221.6,455.8 1223.4,454.6 1225.3,453.3 1227.1,452.1 1228.9,450.9 1230.8,449.7 1232.6,448.6 1234.4,447.5 1236.2,446.4 1238.1,445.4 1239.9,444.3 1241.7,443.3 1243.6,442.3 1245.4,441.4 1247.2,440.4 1249.0,439.5 1250.9,438.6 1252.7,437.7 1254.5,436.9 1256.4,436.0 1258.2,435.2 1260.0,434.5 1261.8,433.7 1263.7,432.9 1265.5,432.2" fill="none" stroke="#000" stroke-width="5.4" stroke-linecap="round" stroke-linejoin="round"/>
<rect x="782.90" y="95.40" width="526.60" height="466.80" fill="none" stroke="#111" stroke-width="1.35"/>
<line x1="826.60" y1="562.20" x2="826.60" y2="550.00" stroke="#111" stroke-width="1.35"/>
<line x1="826.60" y1="95.40" x2="826.60" y2="107.60" stroke="#111" stroke-width="1.35"/>
<line x1="972.90" y1="562.20" x2="972.90" y2="550.00" stroke="#111" stroke-width="1.35"/>
<line x1="972.90" y1="95.40" x2="972.90" y2="107.60" stroke="#111" stroke-width="1.35"/>
<line x1="1119.20" y1="562.20" x2="1119.20" y2="550.00" stroke="#111" stroke-width="1.35"/>
<line x1="1119.20" y1="95.40" x2="1119.20" y2="107.60" stroke="#111" stroke-width="1.35"/>
<line x1="1265.50" y1="562.20" x2="1265.50" y2="550.00" stroke="#111" stroke-width="1.35"/>
<line x1="1265.50" y1="95.40" x2="1265.50" y2="107.60" stroke="#111" stroke-width="1.35"/>
<line x1="794.14" y1="562.20" x2="794.14" y2="555.90" stroke="#111" stroke-width="1.35"/>
<line x1="794.14" y1="95.40" x2="794.14" y2="101.70" stroke="#111" stroke-width="1.35"/>
<line x1="803.94" y1="562.20" x2="803.94" y2="555.90" stroke="#111" stroke-width="1.35"/>
<line x1="803.94" y1="95.40" x2="803.94" y2="101.70" stroke="#111" stroke-width="1.35"/>
<line x1="812.42" y1="562.20" x2="812.42" y2="555.90" stroke="#111" stroke-width="1.35"/>
<line x1="812.42" y1="95.40" x2="812.42" y2="101.70" stroke="#111" stroke-width="1.35"/>
<line x1="819.91" y1="562.20" x2="819.91" y2="555.90" stroke="#111" stroke-width="1.35"/>
<line x1="819.91" y1="95.40" x2="819.91" y2="101.70" stroke="#111" stroke-width="1.35"/>
<line x1="870.64" y1="562.20" x2="870.64" y2="555.90" stroke="#111" stroke-width="1.35"/>
<line x1="870.64" y1="95.40" x2="870.64" y2="101.70" stroke="#111" stroke-width="1.35"/>
<line x1="896.40" y1="562.20" x2="896.40" y2="555.90" stroke="#111" stroke-width="1.35"/>
<line x1="896.40" y1="95.40" x2="896.40" y2="101.70" stroke="#111" stroke-width="1.35"/>
<line x1="914.68" y1="562.20" x2="914.68" y2="555.90" stroke="#111" stroke-width="1.35"/>
<line x1="914.68" y1="95.40" x2="914.68" y2="101.70" stroke="#111" stroke-width="1.35"/>
<line x1="928.86" y1="562.20" x2="928.86" y2="555.90" stroke="#111" stroke-width="1.35"/>
<line x1="928.86" y1="95.40" x2="928.86" y2="101.70" stroke="#111" stroke-width="1.35"/>
<line x1="940.44" y1="562.20" x2="940.44" y2="555.90" stroke="#111" stroke-width="1.35"/>
<line x1="940.44" y1="95.40" x2="940.44" y2="101.70" stroke="#111" stroke-width="1.35"/>
<line x1="950.24" y1="562.20" x2="950.24" y2="555.90" stroke="#111" stroke-width="1.35"/>
<line x1="950.24" y1="95.40" x2="950.24" y2="101.70" stroke="#111" stroke-width="1.35"/>
<line x1="958.72" y1="562.20" x2="958.72" y2="555.90" stroke="#111" stroke-width="1.35"/>
<line x1="958.72" y1="95.40" x2="958.72" y2="101.70" stroke="#111" stroke-width="1.35"/>
<line x1="966.21" y1="562.20" x2="966.21" y2="555.90" stroke="#111" stroke-width="1.35"/>
<line x1="966.21" y1="95.40" x2="966.21" y2="101.70" stroke="#111" stroke-width="1.35"/>
<line x1="1016.94" y1="562.20" x2="1016.94" y2="555.90" stroke="#111" stroke-width="1.35"/>
<line x1="1016.94" y1="95.40" x2="1016.94" y2="101.70" stroke="#111" stroke-width="1.35"/>
<line x1="1042.70" y1="562.20" x2="1042.70" y2="555.90" stroke="#111" stroke-width="1.35"/>
<line x1="1042.70" y1="95.40" x2="1042.70" y2="101.70" stroke="#111" stroke-width="1.35"/>
<line x1="1060.98" y1="562.20" x2="1060.98" y2="555.90" stroke="#111" stroke-width="1.35"/>
<line x1="1060.98" y1="95.40" x2="1060.98" y2="101.70" stroke="#111" stroke-width="1.35"/>
<line x1="1075.16" y1="562.20" x2="1075.16" y2="555.90" stroke="#111" stroke-width="1.35"/>
<line x1="1075.16" y1="95.40" x2="1075.16" y2="101.70" stroke="#111" stroke-width="1.35"/>
<line x1="1086.74" y1="562.20" x2="1086.74" y2="555.90" stroke="#111" stroke-width="1.35"/>
<line x1="1086.74" y1="95.40" x2="1086.74" y2="101.70" stroke="#111" stroke-width="1.35"/>
<line x1="1096.54" y1="562.20" x2="1096.54" y2="555.90" stroke="#111" stroke-width="1.35"/>
<line x1="1096.54" y1="95.40" x2="1096.54" y2="101.70" stroke="#111" stroke-width="1.35"/>
<line x1="1105.02" y1="562.20" x2="1105.02" y2="555.90" stroke="#111" stroke-width="1.35"/>
<line x1="1105.02" y1="95.40" x2="1105.02" y2="101.70" stroke="#111" stroke-width="1.35"/>
<line x1="1112.51" y1="562.20" x2="1112.51" y2="555.90" stroke="#111" stroke-width="1.35"/>
<line x1="1112.51" y1="95.40" x2="1112.51" y2="101.70" stroke="#111" stroke-width="1.35"/>
<line x1="1163.24" y1="562.20" x2="1163.24" y2="555.90" stroke="#111" stroke-width="1.35"/>
<line x1="1163.24" y1="95.40" x2="1163.24" y2="101.70" stroke="#111" stroke-width="1.35"/>
<line x1="1189.00" y1="562.20" x2="1189.00" y2="555.90" stroke="#111" stroke-width="1.35"/>
<line x1="1189.00" y1="95.40" x2="1189.00" y2="101.70" stroke="#111" stroke-width="1.35"/>
<line x1="1207.28" y1="562.20" x2="1207.28" y2="555.90" stroke="#111" stroke-width="1.35"/>
<line x1="1207.28" y1="95.40" x2="1207.28" y2="101.70" stroke="#111" stroke-width="1.35"/>
<line x1="1221.46" y1="562.20" x2="1221.46" y2="555.90" stroke="#111" stroke-width="1.35"/>
<line x1="1221.46" y1="95.40" x2="1221.46" y2="101.70" stroke="#111" stroke-width="1.35"/>
<line x1="1233.04" y1="562.20" x2="1233.04" y2="555.90" stroke="#111" stroke-width="1.35"/>
<line x1="1233.04" y1="95.40" x2="1233.04" y2="101.70" stroke="#111" stroke-width="1.35"/>
<line x1="1242.84" y1="562.20" x2="1242.84" y2="555.90" stroke="#111" stroke-width="1.35"/>
<line x1="1242.84" y1="95.40" x2="1242.84" y2="101.70" stroke="#111" stroke-width="1.35"/>
<line x1="1251.32" y1="562.20" x2="1251.32" y2="555.90" stroke="#111" stroke-width="1.35"/>
<line x1="1251.32" y1="95.40" x2="1251.32" y2="101.70" stroke="#111" stroke-width="1.35"/>
<line x1="1258.81" y1="562.20" x2="1258.81" y2="555.90" stroke="#111" stroke-width="1.35"/>
<line x1="1258.81" y1="95.40" x2="1258.81" y2="101.70" stroke="#111" stroke-width="1.35"/>
<text x="767.70" y="103.30" font-size="23" text-anchor="end" font-family="Liberation Sans, Arial, sans-serif" letter-spacing="-0.4">4k</text>
<line x1="782.90" y1="173.20" x2="795.50" y2="173.20" stroke="#111" stroke-width="1.35"/>
<line x1="1309.50" y1="173.20" x2="1296.90" y2="173.20" stroke="#111" stroke-width="1.35"/>
<text x="767.70" y="181.10" font-size="23" text-anchor="end" font-family="Liberation Sans, Arial, sans-serif" letter-spacing="-0.4">3k</text>
<line x1="782.90" y1="251.00" x2="795.50" y2="251.00" stroke="#111" stroke-width="1.35"/>
<line x1="1309.50" y1="251.00" x2="1296.90" y2="251.00" stroke="#111" stroke-width="1.35"/>
<text x="767.70" y="258.90" font-size="23" text-anchor="end" font-family="Liberation Sans, Arial, sans-serif" letter-spacing="-0.4">2k</text>
<line x1="782.90" y1="328.80" x2="795.50" y2="328.80" stroke="#111" stroke-width="1.35"/>
<line x1="1309.50" y1="328.80" x2="1296.90" y2="328.80" stroke="#111" stroke-width="1.35"/>
<text x="767.70" y="336.70" font-size="23" text-anchor="end" font-family="Liberation Sans, Arial, sans-serif" letter-spacing="-0.4">1k</text>
<line x1="782.90" y1="406.60" x2="795.50" y2="406.60" stroke="#111" stroke-width="1.35"/>
<line x1="1309.50" y1="406.60" x2="1296.90" y2="406.60" stroke="#111" stroke-width="1.35"/>
<text x="767.70" y="414.50" font-size="23" text-anchor="end" font-family="Liberation Sans, Arial, sans-serif" letter-spacing="-0.4">0</text>
<line x1="782.90" y1="484.40" x2="795.50" y2="484.40" stroke="#111" stroke-width="1.35"/>
<line x1="1309.50" y1="484.40" x2="1296.90" y2="484.40" stroke="#111" stroke-width="1.35"/>
<text x="767.70" y="492.30" font-size="23" text-anchor="end" font-family="Liberation Sans, Arial, sans-serif" letter-spacing="-0.4"><tspan font-size="37" dy="2.6" stroke="#fff" stroke-width="0.9">−</tspan><tspan dy="-2.6" dx="-1">1k</tspan></text>
<text x="767.70" y="570.10" font-size="23" text-anchor="end" font-family="Liberation Sans, Arial, sans-serif" letter-spacing="-0.4"><tspan font-size="37" dy="2.6" stroke="#fff" stroke-width="0.9">−</tspan><tspan dy="-2.6" dx="-1">2k</tspan></text>
<text x="826.60" y="596.80" font-size="23" text-anchor="middle" font-family="Liberation Sans, Arial, sans-serif" letter-spacing="-0.4">100k</text>
<text x="972.90" y="596.80" font-size="23" text-anchor="middle" font-family="Liberation Sans, Arial, sans-serif" letter-spacing="-0.4">1M</text>
<text x="1119.20" y="596.80" font-size="23" text-anchor="middle" font-family="Liberation Sans, Arial, sans-serif" letter-spacing="-0.4">10M</text>
<text x="1265.50" y="596.80" font-size="23" text-anchor="middle" font-family="Liberation Sans, Arial, sans-serif" letter-spacing="-0.4">100M</text>
<text x="1035.00" y="629.50" font-size="25" text-anchor="middle" font-family="Liberation Sans, Arial, sans-serif" textLength="181" lengthAdjust="spacing">Frequency (Hz)</text>
<text transform="translate(707.5,328.5) rotate(-90)" font-size="26" text-anchor="middle" font-style="italic" style="stroke:none" font-family="Liberation Sans, Arial, sans-serif">Z<tspan dx="-5">’</tspan>, Z<tspan dx="-5">’</tspan><tspan dx="2.5">’</tspan></text>
<circle cx="1196.9" cy="131.4" r="7" fill="#808282"/>
<circle cx="1196.9" cy="165.8" r="7" fill="#f17e21"/>
<text x="1239.90" y="142.40" font-size="29" text-anchor="start" font-family="Liberation Sans, Arial, sans-serif" font-style="italic" style="stroke:none">Z<tspan dx="-5.5">’</tspan></text>
<text x="1239.90" y="177.00" font-size="29" text-anchor="start" font-family="Liberation Sans, Arial, sans-serif" font-style="italic" style="stroke:none">Z<tspan dx="-5.5">’</tspan><tspan dx="2.5">’</tspan></text>
<text x="814.00" y="493.70" font-size="33" text-anchor="start" font-family="Liberation Sans, Arial, sans-serif" textLength="176" lengthAdjust="spacing">MgO 2.6nm</text>
<text x="816.0" y="534.2" font-size="33" word-spacing="0.7" text-anchor="start" font-family="Liberation Sans, Arial, sans-serif"><tspan font-style="italic">S</tspan> = 80 <tspan font-family="Liberation Serif, Times New Roman, serif" font-size="34">μ</tspan>m<tspan font-size="21" dy="-12">2</tspan></text>
<text x="722.00" y="30.80" font-size="38" text-anchor="start" font-family="Liberation Sans, Arial, sans-serif" ></text>
<polyline points="1497.8,174.0 1499.6,174.3 1501.5,174.7 1503.3,175.0 1505.1,175.4 1506.9,175.8 1508.8,176.2 1510.6,176.6 1512.4,177.1 1514.2,177.6 1516.1,178.1 1517.9,178.6 1519.7,179.2 1521.5,179.8 1523.4,180.5 1525.2,181.1 1527.0,181.8 1528.8,182.6 1530.7,183.3 1532.5,184.2 1534.3,185.0 1536.2,185.9 1538.0,186.9 1539.8,187.9 1541.6,188.9 1543.5,190.0 1545.3,191.2 1547.1,192.4 1548.9,193.7 1550.8,195.0 1552.6,196.4 1554.4,197.8 1556.2,199.3 1558.1,200.9 1559.9,202.5 1561.7,204.2 1563.5,206.0 1565.4,207.9 1567.2,209.8 1569.0,211.8 1570.8,213.9 1572.7,216.0 1574.5,218.2 1576.3,220.5 1578.2,222.9 1580.0,225.4 1581.8,227.9 1583.6,230.5 1585.5,233.2 1587.3,235.9 1589.1,238.7 1590.9,241.6 1592.8,244.5 1594.6,247.5 1596.4,250.6 1598.2,253.7 1600.1,256.9 1601.9,260.1 1603.7,263.3 1605.5,266.6 1607.4,269.9 1609.2,273.3 1611.0,276.7 1612.9,280.1 1614.7,283.5 1616.5,286.9 1618.3,290.3 1620.2,293.7 1622.0,297.1 1623.8,300.4 1625.6,303.8 1627.5,307.1 1629.3,310.4 1631.1,313.7 1632.9,316.9 1634.8,320.1 1636.6,323.2 1638.4,326.2 1640.2,329.2 1642.1,332.2 1643.9,335.1 1645.7,337.9 1647.6,340.6 1649.4,343.3 1651.2,345.9 1653.0,348.4 1654.9,350.9 1656.7,353.3 1658.5,355.6 1660.3,357.8 1662.2,360.0 1664.0,362.0 1665.8,364.0 1667.6,366.0 1669.5,367.8 1671.3,369.6 1673.1,371.3 1674.9,373.0 1676.8,374.5 1678.6,376.1 1680.4,377.5 1682.3,378.9 1684.1,380.2 1685.9,381.5 1687.7,382.7 1689.6,383.9 1691.4,385.0 1693.2,386.0 1695.0,387.0 1696.9,388.0 1698.7,388.9 1700.5,389.7 1702.3,390.6 1704.2,391.3 1706.0,392.1 1707.8,392.8 1709.6,393.5 1711.5,394.1 1713.3,394.7 1715.1,395.3 1716.9,395.8 1718.8,396.3 1720.6,396.8 1722.4,397.3 1724.3,397.7 1726.1,398.2 1727.9,398.6 1729.7,398.9 1731.6,399.3 1733.4,399.6 1735.2,399.9 1737.0,400.2 1738.9,400.5 1740.7,400.8 1742.5,401.0 1744.3,401.3 1746.2,401.5 1748.0,401.7 1749.8,401.9 1751.6,402.1 1753.5,402.3 1755.3,402.5 1757.1,402.6 1759.0,402.8 1760.8,402.9 1762.6,403.1 1764.4,403.2 1766.3,403.3 1768.1,403.5 1769.9,403.6 1771.7,403.7 1773.6,403.8 1775.4,403.9 1777.2,403.9 1779.0,404.0 1780.9,404.1 1782.7,404.2 1784.5,404.2 1786.3,404.3 1788.2,404.4 1790.0,404.4 1791.8,404.5 1793.7,404.5 1795.5,404.6 1797.3,404.6 1799.1,404.7 1801.0,404.7 1802.8,404.8 1804.6,404.8 1806.4,404.8 1808.3,404.9 1810.1,404.9 1811.9,404.9 1813.7,405.0 1815.6,405.0 1817.4,405.0 1819.2,405.0 1821.0,405.1 1822.9,405.1 1824.7,405.1 1826.5,405.1 1828.4,405.1 1830.2,405.2 1832.0,405.2 1833.8,405.2 1835.7,405.2 1837.5,405.2 1839.3,405.2 1841.1,405.2 1843.0,405.2 1844.8,405.3 1846.6,405.3 1848.4,405.3 1850.3,405.3 1852.1,405.3 1853.9,405.3 1855.7,405.3 1857.6,405.3 1859.4,405.3 1861.2,405.3 1863.0,405.3 1864.9,405.3 1866.7,405.3 1868.5,405.3 1870.4,405.4 1872.2,405.4 1874.0,405.4 1875.8,405.4 1877.7,405.4 1879.5,405.4 1881.3,405.4 1883.1,405.4 1885.0,405.4 1886.8,405.4 1888.6,405.4 1890.4,405.4 1892.3,405.4 1894.1,405.4 1895.9,405.4 1897.7,405.4 1899.6,405.4 1901.4,405.4 1903.2,405.4 1905.1,405.4 1906.9,405.4 1908.7,405.4 1910.5,405.4 1912.4,405.4 1914.2,405.4 1916.0,405.4 1917.8,405.4 1919.7,405.4 1921.5,405.4 1923.3,405.4 1925.1,405.4 1927.0,405.4 1928.8,405.4 1930.6,405.4 1932.4,405.4 1934.3,405.4 1936.1,405.4" fill="none" stroke="#808282" stroke-width="14.4" stroke-linecap="round" stroke-linejoin="round"/>
<polyline points="1497.8,442.2 1499.6,443.2 1501.5,444.2 1503.3,445.2 1505.1,446.3 1506.9,447.4 1508.8,448.5 1510.6,449.7 1512.4,450.8 1514.2,452.0 1516.1,453.2 1517.9,454.5 1519.7,455.8 1521.5,457.1 1523.4,458.4 1525.2,459.7 1527.0,461.1 1528.8,462.5 1530.7,464.0 1532.5,465.4 1534.3,466.9 1536.2,468.4 1538.0,469.9 1539.8,471.5 1541.6,473.1 1543.5,474.7 1545.3,476.3 1547.1,477.9 1548.9,479.5 1550.8,481.2 1552.6,482.9 1554.4,484.6 1556.2,486.3 1558.1,488.0 1559.9,489.7 1561.7,491.4 1563.5,493.1 1565.4,494.8 1567.2,496.5 1569.0,498.1 1570.8,499.8 1572.7,501.4 1574.5,503.1 1576.3,504.7 1578.2,506.2 1580.0,507.8 1581.8,509.3 1583.6,510.7 1585.5,512.1 1587.3,513.5 1589.1,514.8 1590.9,516.0 1592.8,517.2 1594.6,518.3 1596.4,519.3 1598.2,520.3 1600.1,521.2 1601.9,522.0 1603.7,522.7 1605.5,523.3 1607.4,523.8 1609.2,524.3 1611.0,524.6 1612.9,524.8 1614.7,525.0 1616.5,525.1 1618.3,525.0 1620.2,524.9 1622.0,524.6 1623.8,524.3 1625.6,523.9 1627.5,523.3 1629.3,522.7 1631.1,522.0 1632.9,521.2 1634.8,520.3 1636.6,519.4 1638.4,518.4 1640.2,517.3 1642.1,516.1 1643.9,514.9 1645.7,513.6 1647.6,512.2 1649.4,510.8 1651.2,509.4 1653.0,507.9 1654.9,506.3 1656.7,504.8 1658.5,503.2 1660.3,501.5 1662.2,499.9 1664.0,498.2 1665.8,496.6 1667.6,494.9 1669.5,493.2 1671.3,491.5 1673.1,489.8 1674.9,488.1 1676.8,486.4 1678.6,484.7 1680.4,483.0 1682.3,481.3 1684.1,479.7 1685.9,478.0 1687.7,476.4 1689.6,474.8 1691.4,473.2 1693.2,471.6 1695.0,470.0 1696.9,468.5 1698.7,467.0 1700.5,465.5 1702.3,464.1 1704.2,462.6 1706.0,461.2 1707.8,459.8 1709.6,458.5 1711.5,457.1 1713.3,455.8 1715.1,454.6 1716.9,453.3 1718.8,452.1 1720.6,450.9 1722.4,449.7 1724.3,448.6 1726.1,447.5 1727.9,446.4 1729.7,445.3 1731.6,444.3 1733.4,443.3 1735.2,442.3 1737.0,441.3 1738.9,440.4 1740.7,439.4 1742.5,438.5 1744.3,437.7 1746.2,436.8 1748.0,436.0 1749.8,435.2 1751.6,434.4 1753.5,433.6 1755.3,432.9 1757.1,432.1 1759.0,431.4 1760.8,430.7 1762.6,430.1 1764.4,429.4 1766.3,428.8 1768.1,428.2 1769.9,427.6 1771.7,427.0 1773.6,426.4 1775.4,425.9 1777.2,425.3 1779.0,424.8 1780.9,424.3 1782.7,423.8 1784.5,423.3 1786.3,422.8 1788.2,422.4 1790.0,421.9 1791.8,421.5 1793.7,421.1 1795.5,420.7 1797.3,420.3 1799.1,419.9 1801.0,419.5 1802.8,419.2 1804.6,418.8 1806.4,418.5 1808.3,418.1 1810.1,417.8 1811.9,417.5 1813.7,417.2 1815.6,416.9 1817.4,416.6 1819.2,416.3 1821.0,416.0 1822.9,415.8 1824.7,415.5 1826.5,415.2 1828.4,415.0 1830.2,414.8 1832.0,414.5 1833.8,414.3 1835.7,414.1 1837.5,413.9 1839.3,413.7 1841.1,413.5 1843.0,413.3 1844.8,413.1 1846.6,412.9 1848.4,412.7 1850.3,412.6 1852.1,412.4 1853.9,412.2 1855.7,412.1 1857.6,411.9 1859.4,411.8 1861.2,411.6 1863.0,411.5 1864.9,411.3 1866.7,411.2 1868.5,411.1 1870.4,410.9 1872.2,410.8 1874.0,410.7 1875.8,410.6 1877.7,410.5 1879.5,410.4 1881.3,410.3 1883.1,410.1 1885.0,410.0 1886.8,409.9 1888.6,409.9 1890.4,409.8 1892.3,409.7 1894.1,409.6 1895.9,409.5 1897.7,409.4 1899.6,409.3 1901.4,409.3 1903.2,409.2 1905.1,409.1 1906.9,409.0 1908.7,409.0 1910.5,408.9 1912.4,408.8 1914.2,408.8 1916.0,408.7 1917.8,408.7 1919.7,408.6 1921.5,408.5 1923.3,408.5 1925.1,408.4 1927.0,408.4 1928.8,408.3 1930.6,408.3 1932.4,408.2 1934.3,408.2 1936.1,408.1" fill="none" stroke="#f17e21" stroke-width="15" stroke-linecap="round" stroke-linejoin="round"/>
<polyline points="1497.8,442.2 1499.6,443.2 1501.5,444.2 1503.3,445.2 1505.1,446.3 1506.9,447.4 1508.8,448.5 1510.6,449.7 1512.4,450.8 1514.2,452.0 1516.1,453.2 1517.9,454.5 1519.7,455.8 1521.5,457.1 1523.4,458.4 1525.2,459.7 1527.0,461.1 1528.8,462.5 1530.7,464.0 1532.5,465.4 1534.3,466.9 1536.2,468.4 1538.0,469.9 1539.8,471.5 1541.6,473.1 1543.5,474.7 1545.3,476.3 1547.1,477.9 1548.9,479.5 1550.8,481.2 1552.6,482.9 1554.4,484.6 1556.2,486.3 1558.1,488.0 1559.9,489.7 1561.7,491.4 1563.5,493.1 1565.4,494.8 1567.2,496.5 1569.0,498.1 1570.8,499.8 1572.7,501.4 1574.5,503.1 1576.3,504.7 1578.2,506.2 1580.0,507.8 1581.8,509.3 1583.6,510.7 1585.5,512.1 1587.3,513.5 1589.1,514.8 1590.9,516.0 1592.8,517.2 1594.6,518.3 1596.4,519.3 1598.2,520.3 1600.1,521.2 1601.9,522.0 1603.7,522.7 1605.5,523.3 1607.4,523.8 1609.2,524.3 1611.0,524.6 1612.9,524.8 1614.7,525.0 1616.5,525.1 1618.3,525.0 1620.2,524.9 1622.0,524.6 1623.8,524.3 1625.6,523.9 1627.5,523.3 1629.3,522.7 1631.1,522.0 1632.9,521.2 1634.8,520.3 1636.6,519.4 1638.4,518.4 1640.2,517.3 1642.1,516.1 1643.9,514.9 1645.7,513.6 1647.6,512.2 1649.4,510.8 1651.2,509.4 1653.0,507.9 1654.9,506.3 1656.7,504.8 1658.5,503.2 1660.3,501.5 1662.2,499.9 1664.0,498.2 1665.8,496.6 1667.6,494.9 1669.5,493.2 1671.3,491.5 1673.1,489.8 1674.9,488.1 1676.8,486.4 1678.6,484.7 1680.4,483.0 1682.3,481.3 1684.1,479.7 1685.9,478.0 1687.7,476.4 1689.6,474.8 1691.4,473.2 1693.2,471.6 1695.0,470.0 1696.9,468.5 1698.7,467.0 1700.5,465.5 1702.3,464.1 1704.2,462.6 1706.0,461.2 1707.8,459.8 1709.6,458.5 1711.5,457.1 1713.3,455.8 1715.1,454.6 1716.9,453.3 1718.8,452.1 1720.6,450.9 1722.4,449.7 1724.3,448.6 1726.1,447.5 1727.9,446.4 1729.7,445.3 1731.6,444.3 1733.4,443.3 1735.2,442.3 1737.0,441.3 1738.9,440.4 1740.7,439.4 1742.5,438.5 1744.3,437.7 1746.2,436.8 1748.0,436.0 1749.8,435.2 1751.6,434.4 1753.5,433.6 1755.3,432.9 1757.1,432.1 1759.0,431.4 1760.8,430.7 1762.6,430.1 1764.4,429.4 1766.3,428.8 1768.1,428.2 1769.9,427.6 1771.7,427.0 1773.6,426.4 1775.4,425.9 1777.2,425.3 1779.0,424.8 1780.9,424.3 1782.7,423.8 1784.5,423.3 1786.3,422.8 1788.2,422.4 1790.0,421.9 1791.8,421.5 1793.7,421.1 1795.5,420.7 1797.3,420.3 1799.1,419.9 1801.0,419.5 1802.8,419.2 1804.6,418.8 1806.4,418.5 1808.3,418.1 1810.1,417.8 1811.9,417.5 1813.7,417.2 1815.6,416.9 1817.4,416.6 1819.2,416.3 1821.0,416.0 1822.9,415.8 1824.7,415.5 1826.5,415.2 1828.4,415.0 1830.2,414.8 1832.0,414.5 1833.8,414.3 1835.7,414.1 1837.5,413.9 1839.3,413.7 1841.1,413.5 1843.0,413.3 1844.8,413.1 1846.6,412.9 1848.4,412.7 1850.3,412.6 1852.1,412.4 1853.9,412.2 1855.7,412.1 1857.6,411.9 1859.4,411.8 1861.2,411.6 1863.0,411.5 1864.9,411.3 1866.7,411.2 1868.5,411.1 1870.4,410.9 1872.2,410.8 1874.0,410.7 1875.8,410.6 1877.7,410.5 1879.5,410.4 1881.3,410.3 1883.1,410.1 1885.0,410.0 1886.8,409.9 1888.6,409.9 1890.4,409.8 1892.3,409.7 1894.1,409.6 1895.9,409.5 1897.7,409.4 1899.6,409.3 1901.4,409.3 1903.2,409.2 1905.1,409.1 1906.9,409.0 1908.7,409.0 1910.5,408.9 1912.4,408.8 1914.2,408.8 1916.0,408.7 1917.8,408.7 1919.7,408.6 1921.5,408.5 1923.3,408.5 1925.1,408.4 1927.0,408.4 1928.8,408.3 1930.6,408.3 1932.4,408.2 1934.3,408.2 1936.1,408.1" fill="none" stroke="#000" stroke-width="5.4" stroke-linecap="round" stroke-linejoin="round"/>
<rect x="1453.00" y="95.40" width="526.70" height="466.80" fill="none" stroke="#111" stroke-width="1.35"/>
<line x1="1497.80" y1="562.20" x2="1497.80" y2="550.00" stroke="#111" stroke-width="1.35"/>
<line x1="1497.80" y1="95.40" x2="1497.80" y2="107.60" stroke="#111" stroke-width="1.35"/>
<line x1="1643.90" y1="562.20" x2="1643.90" y2="550.00" stroke="#111" stroke-width="1.35"/>
<line x1="1643.90" y1="95.40" x2="1643.90" y2="107.60" stroke="#111" stroke-width="1.35"/>
<line x1="1790.00" y1="562.20" x2="1790.00" y2="550.00" stroke="#111" stroke-width="1.35"/>
<line x1="1790.00" y1="95.40" x2="1790.00" y2="107.60" stroke="#111" stroke-width="1.35"/>
<line x1="1936.10" y1="562.20" x2="1936.10" y2="550.00" stroke="#111" stroke-width="1.35"/>
<line x1="1936.10" y1="95.40" x2="1936.10" y2="107.60" stroke="#111" stroke-width="1.35"/>
<line x1="1465.39" y1="562.20" x2="1465.39" y2="555.90" stroke="#111" stroke-width="1.35"/>
<line x1="1465.39" y1="95.40" x2="1465.39" y2="101.70" stroke="#111" stroke-width="1.35"/>
<line x1="1475.17" y1="562.20" x2="1475.17" y2="555.90" stroke="#111" stroke-width="1.35"/>
<line x1="1475.17" y1="95.40" x2="1475.17" y2="101.70" stroke="#111" stroke-width="1.35"/>
<line x1="1483.64" y1="562.20" x2="1483.64" y2="555.90" stroke="#111" stroke-width="1.35"/>
<line x1="1483.64" y1="95.40" x2="1483.64" y2="101.70" stroke="#111" stroke-width="1.35"/>
<line x1="1491.11" y1="562.20" x2="1491.11" y2="555.90" stroke="#111" stroke-width="1.35"/>
<line x1="1491.11" y1="95.40" x2="1491.11" y2="101.70" stroke="#111" stroke-width="1.35"/>
<line x1="1541.78" y1="562.20" x2="1541.78" y2="555.90" stroke="#111" stroke-width="1.35"/>
<line x1="1541.78" y1="95.40" x2="1541.78" y2="101.70" stroke="#111" stroke-width="1.35"/>
<line x1="1567.51" y1="562.20" x2="1567.51" y2="555.90" stroke="#111" stroke-width="1.35"/>
<line x1="1567.51" y1="95.40" x2="1567.51" y2="101.70" stroke="#111" stroke-width="1.35"/>
<line x1="1585.76" y1="562.20" x2="1585.76" y2="555.90" stroke="#111" stroke-width="1.35"/>
<line x1="1585.76" y1="95.40" x2="1585.76" y2="101.70" stroke="#111" stroke-width="1.35"/>
<line x1="1599.92" y1="562.20" x2="1599.92" y2="555.90" stroke="#111" stroke-width="1.35"/>
<line x1="1599.92" y1="95.40" x2="1599.92" y2="101.70" stroke="#111" stroke-width="1.35"/>
<line x1="1611.49" y1="562.20" x2="1611.49" y2="555.90" stroke="#111" stroke-width="1.35"/>
<line x1="1611.49" y1="95.40" x2="1611.49" y2="101.70" stroke="#111" stroke-width="1.35"/>
<line x1="1621.27" y1="562.20" x2="1621.27" y2="555.90" stroke="#111" stroke-width="1.35"/>
<line x1="1621.27" y1="95.40" x2="1621.27" y2="101.70" stroke="#111" stroke-width="1.35"/>
<line x1="1629.74" y1="562.20" x2="1629.74" y2="555.90" stroke="#111" stroke-width="1.35"/>
<line x1="1629.74" y1="95.40" x2="1629.74" y2="101.70" stroke="#111" stroke-width="1.35"/>
<line x1="1637.21" y1="562.20" x2="1637.21" y2="555.90" stroke="#111" stroke-width="1.35"/>
<line x1="1637.21" y1="95.40" x2="1637.21" y2="101.70" stroke="#111" stroke-width="1.35"/>
<line x1="1687.88" y1="562.20" x2="1687.88" y2="555.90" stroke="#111" stroke-width="1.35"/>
<line x1="1687.88" y1="95.40" x2="1687.88" y2="101.70" stroke="#111" stroke-width="1.35"/>
<line x1="1713.61" y1="562.20" x2="1713.61" y2="555.90" stroke="#111" stroke-width="1.35"/>
<line x1="1713.61" y1="95.40" x2="1713.61" y2="101.70" stroke="#111" stroke-width="1.35"/>
<line x1="1731.86" y1="562.20" x2="1731.86" y2="555.90" stroke="#111" stroke-width="1.35"/>
<line x1="1731.86" y1="95.40" x2="1731.86" y2="101.70" stroke="#111" stroke-width="1.35"/>
<line x1="1746.02" y1="562.20" x2="1746.02" y2="555.90" stroke="#111" stroke-width="1.35"/>
<line x1="1746.02" y1="95.40" x2="1746.02" y2="101.70" stroke="#111" stroke-width="1.35"/>
<line x1="1757.59" y1="562.20" x2="1757.59" y2="555.90" stroke="#111" stroke-width="1.35"/>
<line x1="1757.59" y1="95.40" x2="1757.59" y2="101.70" stroke="#111" stroke-width="1.35"/>
<line x1="1767.37" y1="562.20" x2="1767.37" y2="555.90" stroke="#111" stroke-width="1.35"/>
<line x1="1767.37" y1="95.40" x2="1767.37" y2="101.70" stroke="#111" stroke-width="1.35"/>
<line x1="1775.84" y1="562.20" x2="1775.84" y2="555.90" stroke="#111" stroke-width="1.35"/>
<line x1="1775.84" y1="95.40" x2="1775.84" y2="101.70" stroke="#111" stroke-width="1.35"/>
<line x1="1783.31" y1="562.20" x2="1783.31" y2="555.90" stroke="#111" stroke-width="1.35"/>
<line x1="1783.31" y1="95.40" x2="1783.31" y2="101.70" stroke="#111" stroke-width="1.35"/>
<line x1="1833.98" y1="562.20" x2="1833.98" y2="555.90" stroke="#111" stroke-width="1.35"/>
<line x1="1833.98" y1="95.40" x2="1833.98" y2="101.70" stroke="#111" stroke-width="1.35"/>
<line x1="1859.71" y1="562.20" x2="1859.71" y2="555.90" stroke="#111" stroke-width="1.35"/>
<line x1="1859.71" y1="95.40" x2="1859.71" y2="101.70" stroke="#111" stroke-width="1.35"/>
<line x1="1877.96" y1="562.20" x2="1877.96" y2="555.90" stroke="#111" stroke-width="1.35"/>
<line x1="1877.96" y1="95.40" x2="1877.96" y2="101.70" stroke="#111" stroke-width="1.35"/>
<line x1="1892.12" y1="562.20" x2="1892.12" y2="555.90" stroke="#111" stroke-width="1.35"/>
<line x1="1892.12" y1="95.40" x2="1892.12" y2="101.70" stroke="#111" stroke-width="1.35"/>
<line x1="1903.69" y1="562.20" x2="1903.69" y2="555.90" stroke="#111" stroke-width="1.35"/>
<line x1="1903.69" y1="95.40" x2="1903.69" y2="101.70" stroke="#111" stroke-width="1.35"/>
<line x1="1913.47" y1="562.20" x2="1913.47" y2="555.90" stroke="#111" stroke-width="1.35"/>
<line x1="1913.47" y1="95.40" x2="1913.47" y2="101.70" stroke="#111" stroke-width="1.35"/>
<line x1="1921.94" y1="562.20" x2="1921.94" y2="555.90" stroke="#111" stroke-width="1.35"/>
<line x1="1921.94" y1="95.40" x2="1921.94" y2="101.70" stroke="#111" stroke-width="1.35"/>
<line x1="1929.41" y1="562.20" x2="1929.41" y2="555.90" stroke="#111" stroke-width="1.35"/>
<line x1="1929.41" y1="95.40" x2="1929.41" y2="101.70" stroke="#111" stroke-width="1.35"/>
<text x="1437.80" y="103.30" font-size="23" text-anchor="end" font-family="Liberation Sans, Arial, sans-serif" letter-spacing="-0.4">80k</text>
<line x1="1453.00" y1="173.20" x2="1465.60" y2="173.20" stroke="#111" stroke-width="1.35"/>
<line x1="1979.70" y1="173.20" x2="1967.10" y2="173.20" stroke="#111" stroke-width="1.35"/>
<text x="1437.80" y="181.10" font-size="23" text-anchor="end" font-family="Liberation Sans, Arial, sans-serif" letter-spacing="-0.4">60k</text>
<line x1="1453.00" y1="251.00" x2="1465.60" y2="251.00" stroke="#111" stroke-width="1.35"/>
<line x1="1979.70" y1="251.00" x2="1967.10" y2="251.00" stroke="#111" stroke-width="1.35"/>
<text x="1437.80" y="258.90" font-size="23" text-anchor="end" font-family="Liberation Sans, Arial, sans-serif" letter-spacing="-0.4">40k</text>
<line x1="1453.00" y1="328.80" x2="1465.60" y2="328.80" stroke="#111" stroke-width="1.35"/>
<line x1="1979.70" y1="328.80" x2="1967.10" y2="328.80" stroke="#111" stroke-width="1.35"/>
<text x="1437.80" y="336.70" font-size="23" text-anchor="end" font-family="Liberation Sans, Arial, sans-serif" letter-spacing="-0.4">20k</text>
<line x1="1453.00" y1="406.60" x2="1465.60" y2="406.60" stroke="#111" stroke-width="1.35"/>
<line x1="1979.70" y1="406.60" x2="1967.10" y2="406.60" stroke="#111" stroke-width="1.35"/>
<text x="1437.80" y="414.50" font-size="23" text-anchor="end" font-family="Liberation Sans, Arial, sans-serif" letter-spacing="-0.4">0</text>
<line x1="1453.00" y1="484.40" x2="1465.60" y2="484.40" stroke="#111" stroke-width="1.35"/>
<line x1="1979.70" y1="484.40" x2="1967.10" y2="484.40" stroke="#111" stroke-width="1.35"/>
<text x="1437.80" y="492.30" font-size="23" text-anchor="end" font-family="Liberation Sans, Arial, sans-serif" letter-spacing="-0.4"><tspan font-size="37" dy="2.6" stroke="#fff" stroke-width="0.9">−</tspan><tspan dy="-2.6" dx="-1">20k</tspan></text>
<text x="1437.80" y="570.10" font-size="23" text-anchor="end" font-family="Liberation Sans, Arial, sans-serif" letter-spacing="-0.4"><tspan font-size="37" dy="2.6" stroke="#fff" stroke-width="0.9">−</tspan><tspan dy="-2.6" dx="-1">40k</tspan></text>
<text x="1497.80" y="596.80" font-size="23" text-anchor="middle" font-family="Liberation Sans, Arial, sans-serif" letter-spacing="-0.4">100k</text>
<text x="1643.90" y="596.80" font-size="23" text-anchor="middle" font-family="Liberation Sans, Arial, sans-serif" letter-spacing="-0.4">1M</text>
<text x="1790.00" y="596.80" font-size="23" text-anchor="middle" font-family="Liberation Sans, Arial, sans-serif" letter-spacing="-0.4">10M</text>
<text x="1936.10" y="596.80" font-size="23" text-anchor="middle" font-family="Liberation Sans, Arial, sans-serif" letter-spacing="-0.4">100M</text>
<text x="1707.00" y="629.50" font-size="25" text-anchor="middle" font-family="Liberation Sans, Arial, sans-serif" textLength="181" lengthAdjust="spacing">Frequency (Hz)</text>
<text transform="translate(1365,328.5) rotate(-90)" font-size="26" text-anchor="middle" font-style="italic" style="stroke:none" font-family="Liberation Sans, Arial, sans-serif">Z<tspan dx="-5">’</tspan>, Z<tspan dx="-5">’</tspan><tspan dx="2.5">’</tspan></text>
<circle cx="1868.0" cy="131.4" r="7" fill="#808282"/>
<circle cx="1868.0" cy="165.8" r="7" fill="#f17e21"/>
<text x="1911.00" y="142.40" font-size="29" text-anchor="start" font-family="Liberation Sans, Arial, sans-serif" font-style="italic" style="stroke:none">Z<tspan dx="-5.5">’</tspan></text>
<text x="1911.00" y="177.00" font-size="29" text-anchor="start" font-family="Liberation Sans, Arial, sans-serif" font-style="italic" style="stroke:none">Z<tspan dx="-5.5">’</tspan><tspan dx="2.5">’</tspan></text>
<text x="1950.00" y="493.70" font-size="33" text-anchor="end" font-family="Liberation Sans, Arial, sans-serif" textLength="176" lengthAdjust="spacing">MgO 3.0nm</text>
<text x="1941.0" y="534.2" font-size="33" word-spacing="0.7" text-anchor="end" font-family="Liberation Sans, Arial, sans-serif"><tspan font-style="italic">S</tspan> = 80 <tspan font-family="Liberation Serif, Times New Roman, serif" font-size="34">μ</tspan>m<tspan font-size="21" dy="-12">2</tspan></text>
<text x="1419.00" y="30.80" font-size="38" text-anchor="start" font-family="Liberation Sans, Arial, sans-serif" ></text>
<text x="72.50" y="30.80" font-size="38" text-anchor="start" font-family="Liberation Sans, Arial, sans-serif" letter-spacing="1.2">(a)</text>
<text x="722.00" y="30.80" font-size="38" text-anchor="start" font-family="Liberation Sans, Arial, sans-serif" letter-spacing="1.2">(b)</text>
<text x="1419.00" y="30.80" font-size="38" text-anchor="start" font-family="Liberation Sans, Arial, sans-serif" letter-spacing="1.2">(c)</text>
<text x="72.00" y="760.00" font-size="38" text-anchor="start" font-family="Liberation Sans, Arial, sans-serif" letter-spacing="1.2">(d)</text>
<text x="722.50" y="760.00" font-size="38" text-anchor="start" font-family="Liberation Sans, Arial, sans-serif" letter-spacing="1.2">(e)</text>
<text x="1420.00" y="760.00" font-size="38" text-anchor="start" font-family="Liberation Sans, Arial, sans-serif" letter-spacing="1.2">(f)</text>
<line x1="93.5" y1="1266.9" x2="634.7" y2="921.7" stroke="#222" stroke-width="1.1" stroke-dasharray="7 5"/>
<line x1="93.5" y1="1266.9" x2="634.7" y2="917.5" stroke="#fe1f0f" stroke-width="3.9"/>
<rect x="205.3" y="1177.1" width="20" height="20" fill="#fe1f0f"/>
<rect x="300.0" y="1116.5" width="20" height="20" fill="#fe1f0f"/>
<rect x="300.0" y="1119.3" width="20" height="20" fill="#fe1f0f"/>
<rect x="421.8" y="1038.5" width="20" height="20" fill="#fe1f0f"/>
<rect x="421.8" y="1040.9" width="20" height="20" fill="#fe1f0f"/>
<rect x="569.9" y="939.4" width="20" height="20" fill="#fe1f0f"/>
<rect x="569.9" y="943.9" width="20" height="20" fill="#fe1f0f"/>
<rect x="206.3" y="1178.3" width="18" height="17.6" fill="none" stroke="#1a0000" stroke-width="1.2"/>
<rect x="301.0" y="1117.7" width="18" height="17.6" fill="none" stroke="#1a0000" stroke-width="1.2"/>
<rect x="301.0" y="1120.5" width="18" height="17.6" fill="none" stroke="#1a0000" stroke-width="1.2"/>
<rect x="422.8" y="1039.8" width="18" height="17.6" fill="none" stroke="#1a0000" stroke-width="1.2"/>
<rect x="422.8" y="1042.1" width="18" height="17.6" fill="none" stroke="#1a0000" stroke-width="1.2"/>
<rect x="570.9" y="940.6" width="18" height="17.6" fill="none" stroke="#1a0000" stroke-width="1.2"/>
<rect x="570.9" y="945.1" width="18" height="17.6" fill="none" stroke="#1a0000" stroke-width="1.2"/>
<rect x="93.50" y="815.30" width="541.20" height="466.50" fill="none" stroke="#2b2b2b" stroke-width="1.75"/>
<line x1="161.15" y1="1281.80" x2="161.15" y2="1269.20" stroke="#2b2b2b" stroke-width="1.75"/>
<line x1="161.15" y1="815.30" x2="161.15" y2="827.90" stroke="#2b2b2b" stroke-width="1.75"/>
<line x1="228.80" y1="1281.80" x2="228.80" y2="1269.20" stroke="#2b2b2b" stroke-width="1.75"/>
<line x1="228.80" y1="815.30" x2="228.80" y2="827.90" stroke="#2b2b2b" stroke-width="1.75"/>
<line x1="296.45" y1="1281.80" x2="296.45" y2="1269.20" stroke="#2b2b2b" stroke-width="1.75"/>
<line x1="296.45" y1="815.30" x2="296.45" y2="827.90" stroke="#2b2b2b" stroke-width="1.75"/>
<line x1="364.10" y1="1281.80" x2="364.10" y2="1269.20" stroke="#2b2b2b" stroke-width="1.75"/>
<line x1="364.10" y1="815.30" x2="364.10" y2="827.90" stroke="#2b2b2b" stroke-width="1.75"/>
<line x1="431.75" y1="1281.80" x2="431.75" y2="1269.20" stroke="#2b2b2b" stroke-width="1.75"/>
<line x1="431.75" y1="815.30" x2="431.75" y2="827.90" stroke="#2b2b2b" stroke-width="1.75"/>
<line x1="499.40" y1="1281.80" x2="499.40" y2="1269.20" stroke="#2b2b2b" stroke-width="1.75"/>
<line x1="499.40" y1="815.30" x2="499.40" y2="827.90" stroke="#2b2b2b" stroke-width="1.75"/>
<line x1="567.05" y1="1281.80" x2="567.05" y2="1269.20" stroke="#2b2b2b" stroke-width="1.75"/>
<line x1="567.05" y1="815.30" x2="567.05" y2="827.90" stroke="#2b2b2b" stroke-width="1.75"/>
<line x1="127.33" y1="1281.80" x2="127.33" y2="1275.40" stroke="#2b2b2b" stroke-width="1.75"/>
<line x1="127.33" y1="815.30" x2="127.33" y2="821.70" stroke="#2b2b2b" stroke-width="1.75"/>
<line x1="194.98" y1="1281.80" x2="194.98" y2="1275.40" stroke="#2b2b2b" stroke-width="1.75"/>
<line x1="194.98" y1="815.30" x2="194.98" y2="821.70" stroke="#2b2b2b" stroke-width="1.75"/>
<line x1="262.62" y1="1281.80" x2="262.62" y2="1275.40" stroke="#2b2b2b" stroke-width="1.75"/>
<line x1="262.62" y1="815.30" x2="262.62" y2="821.70" stroke="#2b2b2b" stroke-width="1.75"/>
<line x1="330.27" y1="1281.80" x2="330.27" y2="1275.40" stroke="#2b2b2b" stroke-width="1.75"/>
<line x1="330.27" y1="815.30" x2="330.27" y2="821.70" stroke="#2b2b2b" stroke-width="1.75"/>
<line x1="397.93" y1="1281.80" x2="397.93" y2="1275.40" stroke="#2b2b2b" stroke-width="1.75"/>
<line x1="397.93" y1="815.30" x2="397.93" y2="821.70" stroke="#2b2b2b" stroke-width="1.75"/>
<line x1="465.58" y1="1281.80" x2="465.58" y2="1275.40" stroke="#2b2b2b" stroke-width="1.75"/>
<line x1="465.58" y1="815.30" x2="465.58" y2="821.70" stroke="#2b2b2b" stroke-width="1.75"/>
<line x1="533.23" y1="1281.80" x2="533.23" y2="1275.40" stroke="#2b2b2b" stroke-width="1.75"/>
<line x1="533.23" y1="815.30" x2="533.23" y2="821.70" stroke="#2b2b2b" stroke-width="1.75"/>
<line x1="600.88" y1="1281.80" x2="600.88" y2="1275.40" stroke="#2b2b2b" stroke-width="1.75"/>
<line x1="600.88" y1="815.30" x2="600.88" y2="821.70" stroke="#2b2b2b" stroke-width="1.75"/>
<line x1="93.50" y1="1048.55" x2="106.10" y2="1048.55" stroke="#2b2b2b" stroke-width="1.75"/>
<line x1="634.70" y1="1048.55" x2="622.10" y2="1048.55" stroke="#2b2b2b" stroke-width="1.75"/>
<line x1="93.50" y1="1235.15" x2="99.70" y2="1235.15" stroke="#2b2b2b" stroke-width="1.75"/>
<line x1="634.70" y1="1235.15" x2="628.50" y2="1235.15" stroke="#2b2b2b" stroke-width="1.75"/>
<line x1="93.50" y1="1188.50" x2="99.70" y2="1188.50" stroke="#2b2b2b" stroke-width="1.75"/>
<line x1="634.70" y1="1188.50" x2="628.50" y2="1188.50" stroke="#2b2b2b" stroke-width="1.75"/>
<line x1="93.50" y1="1141.85" x2="99.70" y2="1141.85" stroke="#2b2b2b" stroke-width="1.75"/>
<line x1="634.70" y1="1141.85" x2="628.50" y2="1141.85" stroke="#2b2b2b" stroke-width="1.75"/>
<line x1="93.50" y1="1095.20" x2="99.70" y2="1095.20" stroke="#2b2b2b" stroke-width="1.75"/>
<line x1="634.70" y1="1095.20" x2="628.50" y2="1095.20" stroke="#2b2b2b" stroke-width="1.75"/>
<line x1="93.50" y1="1001.90" x2="99.70" y2="1001.90" stroke="#2b2b2b" stroke-width="1.75"/>
<line x1="634.70" y1="1001.90" x2="628.50" y2="1001.90" stroke="#2b2b2b" stroke-width="1.75"/>
<line x1="93.50" y1="955.25" x2="99.70" y2="955.25" stroke="#2b2b2b" stroke-width="1.75"/>
<line x1="634.70" y1="955.25" x2="628.50" y2="955.25" stroke="#2b2b2b" stroke-width="1.75"/>
<line x1="93.50" y1="908.60" x2="99.70" y2="908.60" stroke="#2b2b2b" stroke-width="1.75"/>
<line x1="634.70" y1="908.60" x2="628.50" y2="908.60" stroke="#2b2b2b" stroke-width="1.75"/>
<line x1="93.50" y1="861.95" x2="99.70" y2="861.95" stroke="#2b2b2b" stroke-width="1.75"/>
<line x1="634.70" y1="861.95" x2="628.50" y2="861.95" stroke="#2b2b2b" stroke-width="1.75"/>
<text x="93.50" y="1314.80" font-size="23.5" text-anchor="middle" font-family="Liberation Sans, Arial, sans-serif" >0</text>
<text x="161.15" y="1314.80" font-size="23.5" text-anchor="middle" font-family="Liberation Sans, Arial, sans-serif" >20</text>
<text x="228.80" y="1314.80" font-size="23.5" text-anchor="middle" font-family="Liberation Sans, Arial, sans-serif" >40</text>
<text x="296.45" y="1314.80" font-size="23.5" text-anchor="middle" font-family="Liberation Sans, Arial, sans-serif" >60</text>
<text x="364.10" y="1314.80" font-size="23.5" text-anchor="middle" font-family="Liberation Sans, Arial, sans-serif" >80</text>
<text x="431.75" y="1314.80" font-size="23.5" text-anchor="middle" font-family="Liberation Sans, Arial, sans-serif" >100</text>
<text x="499.40" y="1314.80" font-size="23.5" text-anchor="middle" font-family="Liberation Sans, Arial, sans-serif" >120</text>
<text x="567.05" y="1314.80" font-size="23.5" text-anchor="middle" font-family="Liberation Sans, Arial, sans-serif" >140</text>
<text x="634.70" y="1314.80" font-size="23.5" text-anchor="middle" font-family="Liberation Sans, Arial, sans-serif" >160</text>
<text x="77.50" y="1288.00" font-size="23.5" text-anchor="end" font-family="Liberation Sans, Arial, sans-serif" >0</text>
<text x="77.50" y="1054.75" font-size="23.5" text-anchor="end" font-family="Liberation Sans, Arial, sans-serif" >5</text>
<text x="77.50" y="821.50" font-size="23.5" text-anchor="end" font-family="Liberation Sans, Arial, sans-serif" >10</text>
<rect x="115.3" y="835.9" width="233.6" height="106.3" fill="#fff" stroke="#2b2b2b" stroke-width="1.6"/>
<text x="118.00" y="860.60" font-size="23" text-anchor="start" font-family="Liberation Sans, Arial, sans-serif" textLength="132" lengthAdjust="spacing">MgO 3.0nm</text>
<rect x="136.5" y="873.7" width="20" height="20" fill="#fe1f0f"/>
<rect x="138" y="912" width="17.6" height="17.6" fill="#fff" stroke="#222" stroke-width="1.1"/>
<text x="181.5" y="892.9" font-size="23" font-family="Liberation Sans, Arial, sans-serif" textLength="141" lengthAdjust="spacing">f-dep. (w R<tspan font-size="15.6" dy="5.5">s</tspan><tspan dy="-5.5">)</tspan></text>
<text x="181.5" y="928.7" font-size="23" font-family="Liberation Sans, Arial, sans-serif" textLength="164" lengthAdjust="spacing">1MHz (w/o R<tspan font-size="15.6" dy="5.5">s</tspan><tspan dy="-5.5">)</tspan></text>
<text x="300" y="1354.3" font-size="31" letter-spacing="0.6" font-family="Liberation Sans, Arial, sans-serif"><tspan font-style="italic">S</tspan> (<tspan font-family="Liberation Serif, Times New Roman, serif" font-size="32">μ</tspan>m<tspan font-size="20" dy="-13">2</tspan><tspan dy="13">)</tspan></text>
<text transform="translate(31.4,1101.2) rotate(-90)" font-size="31" font-family="Liberation Sans, Arial, sans-serif"><tspan font-style="italic">C</tspan><tspan font-size="35" dy="10.5">p</tspan><tspan dy="-10.5"> (pF)</tspan></text>
<rect x="759.70" y="815.80" width="541.60" height="466.90" fill="none" stroke="#2b2b2b" stroke-width="1.75"/>
<line x1="813.90" y1="1282.70" x2="813.90" y2="1270.10" stroke="#2b2b2b" stroke-width="1.75"/>
<line x1="813.90" y1="815.80" x2="813.90" y2="828.40" stroke="#2b2b2b" stroke-width="1.75"/>
<line x1="922.20" y1="1282.70" x2="922.20" y2="1270.10" stroke="#2b2b2b" stroke-width="1.75"/>
<line x1="922.20" y1="815.80" x2="922.20" y2="828.40" stroke="#2b2b2b" stroke-width="1.75"/>
<line x1="1030.50" y1="1282.70" x2="1030.50" y2="1270.10" stroke="#2b2b2b" stroke-width="1.75"/>
<line x1="1030.50" y1="815.80" x2="1030.50" y2="828.40" stroke="#2b2b2b" stroke-width="1.75"/>
<line x1="1138.80" y1="1282.70" x2="1138.80" y2="1270.10" stroke="#2b2b2b" stroke-width="1.75"/>
<line x1="1138.80" y1="815.80" x2="1138.80" y2="828.40" stroke="#2b2b2b" stroke-width="1.75"/>
<line x1="1247.10" y1="1282.70" x2="1247.10" y2="1270.10" stroke="#2b2b2b" stroke-width="1.75"/>
<line x1="1247.10" y1="815.80" x2="1247.10" y2="828.40" stroke="#2b2b2b" stroke-width="1.75"/>
<line x1="868.05" y1="1282.70" x2="868.05" y2="1276.30" stroke="#2b2b2b" stroke-width="1.75"/>
<line x1="868.05" y1="815.80" x2="868.05" y2="822.20" stroke="#2b2b2b" stroke-width="1.75"/>
<line x1="976.35" y1="1282.70" x2="976.35" y2="1276.30" stroke="#2b2b2b" stroke-width="1.75"/>
<line x1="976.35" y1="815.80" x2="976.35" y2="822.20" stroke="#2b2b2b" stroke-width="1.75"/>
<line x1="1084.65" y1="1282.70" x2="1084.65" y2="1276.30" stroke="#2b2b2b" stroke-width="1.75"/>
<line x1="1084.65" y1="815.80" x2="1084.65" y2="822.20" stroke="#2b2b2b" stroke-width="1.75"/>
<line x1="1192.95" y1="1282.70" x2="1192.95" y2="1276.30" stroke="#2b2b2b" stroke-width="1.75"/>
<line x1="1192.95" y1="815.80" x2="1192.95" y2="822.20" stroke="#2b2b2b" stroke-width="1.75"/>
<line x1="759.70" y1="1189.32" x2="772.30" y2="1189.32" stroke="#2b2b2b" stroke-width="1.75"/>
<line x1="1301.30" y1="1189.32" x2="1288.70" y2="1189.32" stroke="#2b2b2b" stroke-width="1.75"/>
<line x1="759.70" y1="1095.94" x2="772.30" y2="1095.94" stroke="#2b2b2b" stroke-width="1.75"/>
<line x1="1301.30" y1="1095.94" x2="1288.70" y2="1095.94" stroke="#2b2b2b" stroke-width="1.75"/>
<line x1="759.70" y1="1002.56" x2="772.30" y2="1002.56" stroke="#2b2b2b" stroke-width="1.75"/>
<line x1="1301.30" y1="1002.56" x2="1288.70" y2="1002.56" stroke="#2b2b2b" stroke-width="1.75"/>
<line x1="759.70" y1="909.18" x2="772.30" y2="909.18" stroke="#2b2b2b" stroke-width="1.75"/>
<line x1="1301.30" y1="909.18" x2="1288.70" y2="909.18" stroke="#2b2b2b" stroke-width="1.75"/>
<line x1="759.70" y1="1264.02" x2="766.30" y2="1264.02" stroke="#2b2b2b" stroke-width="1.75"/>
<line x1="1301.30" y1="1264.02" x2="1294.70" y2="1264.02" stroke="#2b2b2b" stroke-width="1.75"/>
<line x1="759.70" y1="1245.35" x2="766.30" y2="1245.35" stroke="#2b2b2b" stroke-width="1.75"/>
<line x1="1301.30" y1="1245.35" x2="1294.70" y2="1245.35" stroke="#2b2b2b" stroke-width="1.75"/>
<line x1="759.70" y1="1226.67" x2="766.30" y2="1226.67" stroke="#2b2b2b" stroke-width="1.75"/>
<line x1="1301.30" y1="1226.67" x2="1294.70" y2="1226.67" stroke="#2b2b2b" stroke-width="1.75"/>
<line x1="759.70" y1="1208.00" x2="766.30" y2="1208.00" stroke="#2b2b2b" stroke-width="1.75"/>
<line x1="1301.30" y1="1208.00" x2="1294.70" y2="1208.00" stroke="#2b2b2b" stroke-width="1.75"/>
<line x1="759.70" y1="1170.64" x2="766.30" y2="1170.64" stroke="#2b2b2b" stroke-width="1.75"/>
<line x1="1301.30" y1="1170.64" x2="1294.70" y2="1170.64" stroke="#2b2b2b" stroke-width="1.75"/>
<line x1="759.70" y1="1151.97" x2="766.30" y2="1151.97" stroke="#2b2b2b" stroke-width="1.75"/>
<line x1="1301.30" y1="1151.97" x2="1294.70" y2="1151.97" stroke="#2b2b2b" stroke-width="1.75"/>
<line x1="759.70" y1="1133.29" x2="766.30" y2="1133.29" stroke="#2b2b2b" stroke-width="1.75"/>
<line x1="1301.30" y1="1133.29" x2="1294.70" y2="1133.29" stroke="#2b2b2b" stroke-width="1.75"/>
<line x1="759.70" y1="1114.62" x2="766.30" y2="1114.62" stroke="#2b2b2b" stroke-width="1.75"/>
<line x1="1301.30" y1="1114.62" x2="1294.70" y2="1114.62" stroke="#2b2b2b" stroke-width="1.75"/>
<line x1="759.70" y1="1077.26" x2="766.30" y2="1077.26" stroke="#2b2b2b" stroke-width="1.75"/>
<line x1="1301.30" y1="1077.26" x2="1294.70" y2="1077.26" stroke="#2b2b2b" stroke-width="1.75"/>
<line x1="759.70" y1="1058.59" x2="766.30" y2="1058.59" stroke="#2b2b2b" stroke-width="1.75"/>
<line x1="1301.30" y1="1058.59" x2="1294.70" y2="1058.59" stroke="#2b2b2b" stroke-width="1.75"/>
<line x1="759.70" y1="1039.91" x2="766.30" y2="1039.91" stroke="#2b2b2b" stroke-width="1.75"/>
<line x1="1301.30" y1="1039.91" x2="1294.70" y2="1039.91" stroke="#2b2b2b" stroke-width="1.75"/>
<line x1="759.70" y1="1021.24" x2="766.30" y2="1021.24" stroke="#2b2b2b" stroke-width="1.75"/>
<line x1="1301.30" y1="1021.24" x2="1294.70" y2="1021.24" stroke="#2b2b2b" stroke-width="1.75"/>
<line x1="759.70" y1="983.88" x2="766.30" y2="983.88" stroke="#2b2b2b" stroke-width="1.75"/>
<line x1="1301.30" y1="983.88" x2="1294.70" y2="983.88" stroke="#2b2b2b" stroke-width="1.75"/>
<line x1="759.70" y1="965.21" x2="766.30" y2="965.21" stroke="#2b2b2b" stroke-width="1.75"/>
<line x1="1301.30" y1="965.21" x2="1294.70" y2="965.21" stroke="#2b2b2b" stroke-width="1.75"/>
<line x1="759.70" y1="946.53" x2="766.30" y2="946.53" stroke="#2b2b2b" stroke-width="1.75"/>
<line x1="1301.30" y1="946.53" x2="1294.70" y2="946.53" stroke="#2b2b2b" stroke-width="1.75"/>
<line x1="759.70" y1="927.86" x2="766.30" y2="927.86" stroke="#2b2b2b" stroke-width="1.75"/>
<line x1="1301.30" y1="927.86" x2="1294.70" y2="927.86" stroke="#2b2b2b" stroke-width="1.75"/>
<line x1="759.70" y1="890.50" x2="766.30" y2="890.50" stroke="#2b2b2b" stroke-width="1.75"/>
<line x1="1301.30" y1="890.50" x2="1294.70" y2="890.50" stroke="#2b2b2b" stroke-width="1.75"/>
<line x1="759.70" y1="871.83" x2="766.30" y2="871.83" stroke="#2b2b2b" stroke-width="1.75"/>
<line x1="1301.30" y1="871.83" x2="1294.70" y2="871.83" stroke="#2b2b2b" stroke-width="1.75"/>
<line x1="759.70" y1="853.15" x2="766.30" y2="853.15" stroke="#2b2b2b" stroke-width="1.75"/>
<line x1="1301.30" y1="853.15" x2="1294.70" y2="853.15" stroke="#2b2b2b" stroke-width="1.75"/>
<line x1="759.70" y1="834.48" x2="766.30" y2="834.48" stroke="#2b2b2b" stroke-width="1.75"/>
<line x1="1301.30" y1="834.48" x2="1294.70" y2="834.48" stroke="#2b2b2b" stroke-width="1.75"/>
<text x="813.90" y="1315.70" font-size="23.5" text-anchor="middle" font-family="Liberation Sans, Arial, sans-serif" >2.2</text>
<text x="922.20" y="1315.70" font-size="23.5" text-anchor="middle" font-family="Liberation Sans, Arial, sans-serif" >2.4</text>
<text x="1030.50" y="1315.70" font-size="23.5" text-anchor="middle" font-family="Liberation Sans, Arial, sans-serif" >2.6</text>
<text x="1138.80" y="1315.70" font-size="23.5" text-anchor="middle" font-family="Liberation Sans, Arial, sans-serif" >2.8</text>
<text x="1247.10" y="1315.70" font-size="23.5" text-anchor="middle" font-family="Liberation Sans, Arial, sans-serif" >3.0</text>
<text x="743.70" y="1289.10" font-size="23.5" text-anchor="end" font-family="Liberation Sans, Arial, sans-serif" >0</text>
<text x="743.70" y="1195.72" font-size="23.5" text-anchor="end" font-family="Liberation Sans, Arial, sans-serif" >5</text>
<text x="743.70" y="1102.34" font-size="23.5" text-anchor="end" font-family="Liberation Sans, Arial, sans-serif" >10</text>
<text x="743.70" y="1008.96" font-size="23.5" text-anchor="end" font-family="Liberation Sans, Arial, sans-serif" >15</text>
<text x="743.70" y="915.58" font-size="23.5" text-anchor="end" font-family="Liberation Sans, Arial, sans-serif" >20</text>
<text x="743.70" y="822.20" font-size="23.5" text-anchor="end" font-family="Liberation Sans, Arial, sans-serif" >25</text>
<circle cx="817.5" cy="955.8" r="13.6" fill="url(#gb)"/>
<circle cx="850.5" cy="958.8" r="13.6" fill="url(#gb)"/>
<circle cx="893.3" cy="963.8" r="13.6" fill="url(#gb)"/>
<circle cx="925.8" cy="966.3" r="13.6" fill="url(#gb)"/>
<circle cx="958.3" cy="968.8" r="13.6" fill="url(#gb)"/>
<circle cx="1001.3" cy="971.3" r="13.6" fill="url(#gb)"/>
<circle cx="1033.8" cy="972.5" r="13.6" fill="url(#gb)"/>
<circle cx="1066.3" cy="973.8" r="13.6" fill="url(#gb)"/>
<circle cx="1109.5" cy="974.3" r="13.6" fill="url(#gb)"/>
<circle cx="1142" cy="975" r="13.6" fill="url(#gb)"/>
<circle cx="1174.5" cy="974.3" r="13.6" fill="url(#gb)"/>
<circle cx="1246.5" cy="985.5" r="13.6" fill="url(#gb)"/>
<circle cx="1246.5" cy="982.5" r="13.6" fill="url(#gb)"/>
<circle cx="817.5" cy="997" r="12.2" fill="none" stroke="#222" stroke-width="1.3"/>
<circle cx="850" cy="987" r="12.2" fill="none" stroke="#222" stroke-width="1.3"/>
<circle cx="893.3" cy="979" r="12.2" fill="none" stroke="#222" stroke-width="1.3"/>
<circle cx="925.8" cy="976" r="12.2" fill="none" stroke="#222" stroke-width="1.3"/>
<circle cx="958.3" cy="975" r="12.2" fill="none" stroke="#222" stroke-width="1.3"/>
<circle cx="1001.3" cy="973.3" r="12.2" fill="none" stroke="#222" stroke-width="1.3"/>
<circle cx="1033.8" cy="973.3" r="12.2" fill="none" stroke="#222" stroke-width="1.3"/>
<circle cx="1066.3" cy="974.3" r="12.2" fill="none" stroke="#222" stroke-width="1.3"/>
<circle cx="1109.5" cy="974.5" r="12.2" fill="none" stroke="#222" stroke-width="1.3"/>
<circle cx="1142" cy="975.5" r="12.2" fill="none" stroke="#222" stroke-width="1.3"/>
<circle cx="1174.5" cy="974.8" r="12.2" fill="none" stroke="#222" stroke-width="1.3"/>
<circle cx="1246.5" cy="981.3" r="12.2" fill="none" stroke="#222" stroke-width="1.3"/>
<circle cx="1246.5" cy="985.5" r="12.2" fill="none" stroke="#222" stroke-width="1.3"/>
<polygon points="835.5,1043.8 852.5,1071.3 819.5,1071.3" fill="#000"/>
<text x="966.00" y="871.10" font-size="31.5" text-anchor="start" font-family="Liberation Sans, Arial, sans-serif" textLength="309" lengthAdjust="spacing">epi-MgO 2.2 - 3.0nm</text>
<text x="966.50" y="911.40" font-size="31.5" text-anchor="start" font-family="Liberation Sans, Arial, sans-serif" textLength="211" lengthAdjust="spacing">(MOKE stack)</text>
<rect x="1046.4" y="1098.7" width="234.7" height="173.3" fill="#fff" stroke="#2b2b2b" stroke-width="1.6"/>
<text x="1049.50" y="1123.80" font-size="23" text-anchor="start" font-family="Liberation Sans, Arial, sans-serif" textLength="97" lengthAdjust="spacing">epi-MgO</text>
<text x="1049.50" y="1226.70" font-size="23" text-anchor="start" font-family="Liberation Sans, Arial, sans-serif" textLength="109" lengthAdjust="spacing">poly-MgO</text>
<circle cx="1078.4" cy="1146.8" r="13.5" fill="url(#gb)"/>
<circle cx="1078.4" cy="1183.2" r="12" fill="#fff" stroke="#222" stroke-width="1.3"/>
<polygon points="1078.4,1232.8 1094.8,1259.7 1062.6,1259.7" fill="#000"/>
<text x="1113.5" y="1155.3" font-size="23" font-family="Liberation Sans, Arial, sans-serif" textLength="141" lengthAdjust="spacing">f-dep. (w R<tspan font-size="15.6" dy="5.5">s</tspan><tspan dy="-5.5">)</tspan></text>
<text x="1113.5" y="1190.3" font-size="23" font-family="Liberation Sans, Arial, sans-serif" textLength="164" lengthAdjust="spacing">1MHz (w/o R<tspan font-size="15.6" dy="5.5">s</tspan><tspan dy="-5.5">)</tspan></text>
<text x="1113.5" y="1258.5" font-size="23" font-family="Liberation Sans, Arial, sans-serif" textLength="141" lengthAdjust="spacing">f-dep. (w R<tspan font-size="15.6" dy="5.5">s</tspan><tspan dy="-5.5">)</tspan></text>
<text x="952.5" y="1349.8" font-size="31" font-family="Liberation Sans, Arial, sans-serif"><tspan font-style="italic">t</tspan><tspan font-size="20.5" dy="9.5" dx="0.5">MgO</tspan><tspan dy="-9.5" dx="4"> (nm)</tspan></text>
<text transform="translate(699,1061) rotate(-90)" font-size="30" font-family="Liberation Serif, Times New Roman, serif"><tspan font-style="italic">ε</tspan><tspan font-family="Liberation Sans, Arial, sans-serif" font-size="36" dy="8">r</tspan></text>
<rect x="1428.40" y="809.70" width="473.30" height="466.80" fill="none" stroke="#111" stroke-width="1.4"/>
<line x1="1476.00" y1="1276.50" x2="1476.00" y2="1263.90" stroke="#111" stroke-width="1.4"/>
<line x1="1476.00" y1="809.70" x2="1476.00" y2="822.30" stroke="#111" stroke-width="1.4"/>
<line x1="1570.38" y1="1276.50" x2="1570.38" y2="1263.90" stroke="#111" stroke-width="1.4"/>
<line x1="1570.38" y1="809.70" x2="1570.38" y2="822.30" stroke="#111" stroke-width="1.4"/>
<line x1="1664.76" y1="1276.50" x2="1664.76" y2="1263.90" stroke="#111" stroke-width="1.4"/>
<line x1="1664.76" y1="809.70" x2="1664.76" y2="822.30" stroke="#111" stroke-width="1.4"/>
<line x1="1759.14" y1="1276.50" x2="1759.14" y2="1263.90" stroke="#111" stroke-width="1.4"/>
<line x1="1759.14" y1="809.70" x2="1759.14" y2="822.30" stroke="#111" stroke-width="1.4"/>
<line x1="1853.52" y1="1276.50" x2="1853.52" y2="1263.90" stroke="#111" stroke-width="1.4"/>
<line x1="1853.52" y1="809.70" x2="1853.52" y2="822.30" stroke="#111" stroke-width="1.4"/>
<line x1="1523.19" y1="1276.50" x2="1523.19" y2="1270.10" stroke="#111" stroke-width="1.4"/>
<line x1="1523.19" y1="809.70" x2="1523.19" y2="816.10" stroke="#111" stroke-width="1.4"/>
<line x1="1617.57" y1="1276.50" x2="1617.57" y2="1270.10" stroke="#111" stroke-width="1.4"/>
<line x1="1617.57" y1="809.70" x2="1617.57" y2="816.10" stroke="#111" stroke-width="1.4"/>
<line x1="1711.95" y1="1276.50" x2="1711.95" y2="1270.10" stroke="#111" stroke-width="1.4"/>
<line x1="1711.95" y1="809.70" x2="1711.95" y2="816.10" stroke="#111" stroke-width="1.4"/>
<line x1="1806.33" y1="1276.50" x2="1806.33" y2="1270.10" stroke="#111" stroke-width="1.4"/>
<line x1="1806.33" y1="809.70" x2="1806.33" y2="816.10" stroke="#111" stroke-width="1.4"/>
<line x1="1428.40" y1="1183.14" x2="1441.00" y2="1183.14" stroke="#111" stroke-width="1.4"/>
<line x1="1428.40" y1="1089.78" x2="1441.00" y2="1089.78" stroke="#111" stroke-width="1.4"/>
<line x1="1428.40" y1="996.42" x2="1441.00" y2="996.42" stroke="#111" stroke-width="1.4"/>
<line x1="1428.40" y1="903.06" x2="1441.00" y2="903.06" stroke="#111" stroke-width="1.4"/>
<line x1="1428.40" y1="1248.40" x2="1434.80" y2="1248.40" stroke="#111" stroke-width="1.4"/>
<line x1="1428.40" y1="1220.29" x2="1434.80" y2="1220.29" stroke="#111" stroke-width="1.4"/>
<line x1="1428.40" y1="1203.85" x2="1434.80" y2="1203.85" stroke="#111" stroke-width="1.4"/>
<line x1="1428.40" y1="1192.19" x2="1434.80" y2="1192.19" stroke="#111" stroke-width="1.4"/>
<line x1="1428.40" y1="1155.04" x2="1434.80" y2="1155.04" stroke="#111" stroke-width="1.4"/>
<line x1="1428.40" y1="1126.93" x2="1434.80" y2="1126.93" stroke="#111" stroke-width="1.4"/>
<line x1="1428.40" y1="1110.49" x2="1434.80" y2="1110.49" stroke="#111" stroke-width="1.4"/>
<line x1="1428.40" y1="1098.83" x2="1434.80" y2="1098.83" stroke="#111" stroke-width="1.4"/>
<line x1="1428.40" y1="1061.68" x2="1434.80" y2="1061.68" stroke="#111" stroke-width="1.4"/>
<line x1="1428.40" y1="1033.57" x2="1434.80" y2="1033.57" stroke="#111" stroke-width="1.4"/>
<line x1="1428.40" y1="1017.13" x2="1434.80" y2="1017.13" stroke="#111" stroke-width="1.4"/>
<line x1="1428.40" y1="1005.47" x2="1434.80" y2="1005.47" stroke="#111" stroke-width="1.4"/>
<line x1="1428.40" y1="968.32" x2="1434.80" y2="968.32" stroke="#111" stroke-width="1.4"/>
<line x1="1428.40" y1="940.21" x2="1434.80" y2="940.21" stroke="#111" stroke-width="1.4"/>
<line x1="1428.40" y1="923.77" x2="1434.80" y2="923.77" stroke="#111" stroke-width="1.4"/>
<line x1="1428.40" y1="912.11" x2="1434.80" y2="912.11" stroke="#111" stroke-width="1.4"/>
<line x1="1428.40" y1="874.96" x2="1434.80" y2="874.96" stroke="#111" stroke-width="1.4"/>
<line x1="1428.40" y1="846.85" x2="1434.80" y2="846.85" stroke="#111" stroke-width="1.4"/>
<line x1="1428.40" y1="830.41" x2="1434.80" y2="830.41" stroke="#111" stroke-width="1.4"/>
<line x1="1428.40" y1="818.75" x2="1434.80" y2="818.75" stroke="#111" stroke-width="1.4"/>
<line x1="1901.70" y1="1267.60" x2="1888.70" y2="1267.60" stroke="#111" stroke-width="1.4"/>
<line x1="1901.70" y1="1174.22" x2="1888.70" y2="1174.22" stroke="#111" stroke-width="1.4"/>
<line x1="1901.70" y1="1080.84" x2="1888.70" y2="1080.84" stroke="#111" stroke-width="1.4"/>
<line x1="1901.70" y1="987.46" x2="1888.70" y2="987.46" stroke="#111" stroke-width="1.4"/>
<line x1="1901.70" y1="894.08" x2="1888.70" y2="894.08" stroke="#111" stroke-width="1.4"/>
<line x1="1901.70" y1="1271.87" x2="1895.30" y2="1271.87" stroke="#111" stroke-width="1.4"/>
<line x1="1901.70" y1="1239.49" x2="1895.30" y2="1239.49" stroke="#111" stroke-width="1.4"/>
<line x1="1901.70" y1="1223.05" x2="1895.30" y2="1223.05" stroke="#111" stroke-width="1.4"/>
<line x1="1901.70" y1="1211.38" x2="1895.30" y2="1211.38" stroke="#111" stroke-width="1.4"/>
<line x1="1901.70" y1="1202.33" x2="1895.30" y2="1202.33" stroke="#111" stroke-width="1.4"/>
<line x1="1901.70" y1="1194.94" x2="1895.30" y2="1194.94" stroke="#111" stroke-width="1.4"/>
<line x1="1901.70" y1="1188.68" x2="1895.30" y2="1188.68" stroke="#111" stroke-width="1.4"/>
<line x1="1901.70" y1="1183.27" x2="1895.30" y2="1183.27" stroke="#111" stroke-width="1.4"/>
<line x1="1901.70" y1="1178.49" x2="1895.30" y2="1178.49" stroke="#111" stroke-width="1.4"/>
<line x1="1901.70" y1="1146.11" x2="1895.30" y2="1146.11" stroke="#111" stroke-width="1.4"/>
<line x1="1901.70" y1="1129.67" x2="1895.30" y2="1129.67" stroke="#111" stroke-width="1.4"/>
<line x1="1901.70" y1="1118.00" x2="1895.30" y2="1118.00" stroke="#111" stroke-width="1.4"/>
<line x1="1901.70" y1="1108.95" x2="1895.30" y2="1108.95" stroke="#111" stroke-width="1.4"/>
<line x1="1901.70" y1="1101.56" x2="1895.30" y2="1101.56" stroke="#111" stroke-width="1.4"/>
<line x1="1901.70" y1="1095.30" x2="1895.30" y2="1095.30" stroke="#111" stroke-width="1.4"/>
<line x1="1901.70" y1="1089.89" x2="1895.30" y2="1089.89" stroke="#111" stroke-width="1.4"/>
<line x1="1901.70" y1="1085.11" x2="1895.30" y2="1085.11" stroke="#111" stroke-width="1.4"/>
<line x1="1901.70" y1="1052.73" x2="1895.30" y2="1052.73" stroke="#111" stroke-width="1.4"/>
<line x1="1901.70" y1="1036.29" x2="1895.30" y2="1036.29" stroke="#111" stroke-width="1.4"/>
<line x1="1901.70" y1="1024.62" x2="1895.30" y2="1024.62" stroke="#111" stroke-width="1.4"/>
<line x1="1901.70" y1="1015.57" x2="1895.30" y2="1015.57" stroke="#111" stroke-width="1.4"/>
<line x1="1901.70" y1="1008.18" x2="1895.30" y2="1008.18" stroke="#111" stroke-width="1.4"/>
<line x1="1901.70" y1="1001.92" x2="1895.30" y2="1001.92" stroke="#111" stroke-width="1.4"/>
<line x1="1901.70" y1="996.51" x2="1895.30" y2="996.51" stroke="#111" stroke-width="1.4"/>
<line x1="1901.70" y1="991.73" x2="1895.30" y2="991.73" stroke="#111" stroke-width="1.4"/>
<line x1="1901.70" y1="959.35" x2="1895.30" y2="959.35" stroke="#111" stroke-width="1.4"/>
<line x1="1901.70" y1="942.91" x2="1895.30" y2="942.91" stroke="#111" stroke-width="1.4"/>
<line x1="1901.70" y1="931.24" x2="1895.30" y2="931.24" stroke="#111" stroke-width="1.4"/>
<line x1="1901.70" y1="922.19" x2="1895.30" y2="922.19" stroke="#111" stroke-width="1.4"/>
<line x1="1901.70" y1="914.80" x2="1895.30" y2="914.80" stroke="#111" stroke-width="1.4"/>
<line x1="1901.70" y1="908.54" x2="1895.30" y2="908.54" stroke="#111" stroke-width="1.4"/>
<line x1="1901.70" y1="903.13" x2="1895.30" y2="903.13" stroke="#111" stroke-width="1.4"/>
<line x1="1901.70" y1="898.35" x2="1895.30" y2="898.35" stroke="#111" stroke-width="1.4"/>
<line x1="1901.70" y1="865.97" x2="1895.30" y2="865.97" stroke="#111" stroke-width="1.4"/>
<line x1="1901.70" y1="849.53" x2="1895.30" y2="849.53" stroke="#111" stroke-width="1.4"/>
<line x1="1901.70" y1="837.86" x2="1895.30" y2="837.86" stroke="#111" stroke-width="1.4"/>
<line x1="1901.70" y1="828.81" x2="1895.30" y2="828.81" stroke="#111" stroke-width="1.4"/>
<line x1="1901.70" y1="821.42" x2="1895.30" y2="821.42" stroke="#111" stroke-width="1.4"/>
<line x1="1901.70" y1="815.16" x2="1895.30" y2="815.16" stroke="#111" stroke-width="1.4"/>
<text x="1476.00" y="1311.80" font-size="23" text-anchor="middle" font-family="Liberation Sans, Arial, sans-serif" letter-spacing="-0.3">2.2</text>
<text x="1570.38" y="1311.80" font-size="23" text-anchor="middle" font-family="Liberation Sans, Arial, sans-serif" letter-spacing="-0.3">2.4</text>
<text x="1664.76" y="1311.80" font-size="23" text-anchor="middle" font-family="Liberation Sans, Arial, sans-serif" letter-spacing="-0.3">2.6</text>
<text x="1759.14" y="1311.80" font-size="23" text-anchor="middle" font-family="Liberation Sans, Arial, sans-serif" letter-spacing="-0.3">2.8</text>
<text x="1853.52" y="1311.80" font-size="23" text-anchor="middle" font-family="Liberation Sans, Arial, sans-serif" letter-spacing="-0.3">3.0</text>
<text x="1413.5" y="1286.2" font-size="23" letter-spacing="-0.3" text-anchor="end" font-family="Liberation Sans, Arial, sans-serif">10<tspan font-size="16" dy="-10">1</tspan></text>
<text x="1413.5" y="1192.8" font-size="23" letter-spacing="-0.3" text-anchor="end" font-family="Liberation Sans, Arial, sans-serif">10<tspan font-size="16" dy="-10">2</tspan></text>
<text x="1413.5" y="1099.5" font-size="23" letter-spacing="-0.3" text-anchor="end" font-family="Liberation Sans, Arial, sans-serif">10<tspan font-size="16" dy="-10">3</tspan></text>
<text x="1413.5" y="1006.1" font-size="23" letter-spacing="-0.3" text-anchor="end" font-family="Liberation Sans, Arial, sans-serif">10<tspan font-size="16" dy="-10">4</tspan></text>
<text x="1413.5" y="912.8" font-size="23" letter-spacing="-0.3" text-anchor="end" font-family="Liberation Sans, Arial, sans-serif">10<tspan font-size="16" dy="-10">5</tspan></text>
<text x="1413.5" y="819.4" font-size="23" letter-spacing="-0.3" text-anchor="end" font-family="Liberation Sans, Arial, sans-serif">10<tspan font-size="16" dy="-10">6</tspan></text>
<text x="1915.3" y="1277.3" font-size="23" letter-spacing="-0.3" font-family="Liberation Sans, Arial, sans-serif">10<tspan font-size="16" dy="-10">3</tspan></text>
<text x="1915.3" y="1183.9" font-size="23" letter-spacing="-0.3" font-family="Liberation Sans, Arial, sans-serif">10<tspan font-size="16" dy="-10">4</tspan></text>
<text x="1915.3" y="1090.5" font-size="23" letter-spacing="-0.3" font-family="Liberation Sans, Arial, sans-serif">10<tspan font-size="16" dy="-10">5</tspan></text>
<text x="1915.3" y="997.2" font-size="23" letter-spacing="-0.3" font-family="Liberation Sans, Arial, sans-serif">10<tspan font-size="16" dy="-10">6</tspan></text>
<text x="1915.3" y="903.8" font-size="23" letter-spacing="-0.3" font-family="Liberation Sans, Arial, sans-serif">10<tspan font-size="16" dy="-10">7</tspan></text>
<circle cx="1478.7" cy="1136.7" r="10.6" fill="url(#gk)"/>
<circle cx="1507.2" cy="1122.4" r="10.6" fill="url(#gk)"/>
<circle cx="1545.4" cy="1098.9" r="10.6" fill="url(#gk)"/>
<circle cx="1573.5" cy="1082.1" r="10.6" fill="url(#gk)"/>
<circle cx="1601.5" cy="1066.5" r="10.6" fill="url(#gk)"/>
<circle cx="1639.7" cy="1046.0" r="10.6" fill="url(#gk)"/>
<circle cx="1668.3" cy="1029.9" r="10.6" fill="url(#gk)"/>
<circle cx="1696.6" cy="1013.6" r="10.6" fill="url(#gk)"/>
<circle cx="1734.1" cy="991.5" r="10.6" fill="url(#gk)"/>
<circle cx="1762.6" cy="976.5" r="10.6" fill="url(#gk)"/>
<circle cx="1790.9" cy="960.2" r="10.6" fill="url(#gk)"/>
<circle cx="1854.2" cy="922.7" r="10.6" fill="url(#gk)"/>
<text x="1562.50" y="1206.30" font-size="31.5" text-anchor="start" font-family="Liberation Sans, Arial, sans-serif" textLength="309" lengthAdjust="spacing">epi-MgO 2.2 - 3.0nm</text>
<text x="1563.00" y="1246.40" font-size="31.5" text-anchor="start" font-family="Liberation Sans, Arial, sans-serif" textLength="211" lengthAdjust="spacing">(MOKE stack)</text>
<text x="1595" y="1340.6" font-size="27" font-family="Liberation Sans, Arial, sans-serif"><tspan font-style="italic">t</tspan><tspan font-size="18.5" dy="8" dx="0.5">MgO</tspan><tspan dy="-8" dx="4.5"> (nm)</tspan></text>
<text transform="translate(1361,1088) rotate(-90)" font-size="29" font-family="Liberation Sans, Arial, sans-serif"><tspan font-style="italic">R</tspan><tspan font-size="33" dy="10">p</tspan><tspan dy="-10" font-size="33"> (</tspan><tspan font-family="Liberation Serif, Times New Roman, serif" font-size="33">Ω</tspan><tspan font-size="33">)</tspan></text>
<text transform="translate(1988,1118) rotate(-90)" font-size="31" font-family="Liberation Sans, Arial, sans-serif"><tspan font-style="italic">RA</tspan> (<tspan font-family="Liberation Serif, Times New Roman, serif" font-size="32">Ωμ</tspan>m<tspan font-size="20" dy="-13">2</tspan><tspan dy="13">)</tspan></text>
</svg></body></html>
